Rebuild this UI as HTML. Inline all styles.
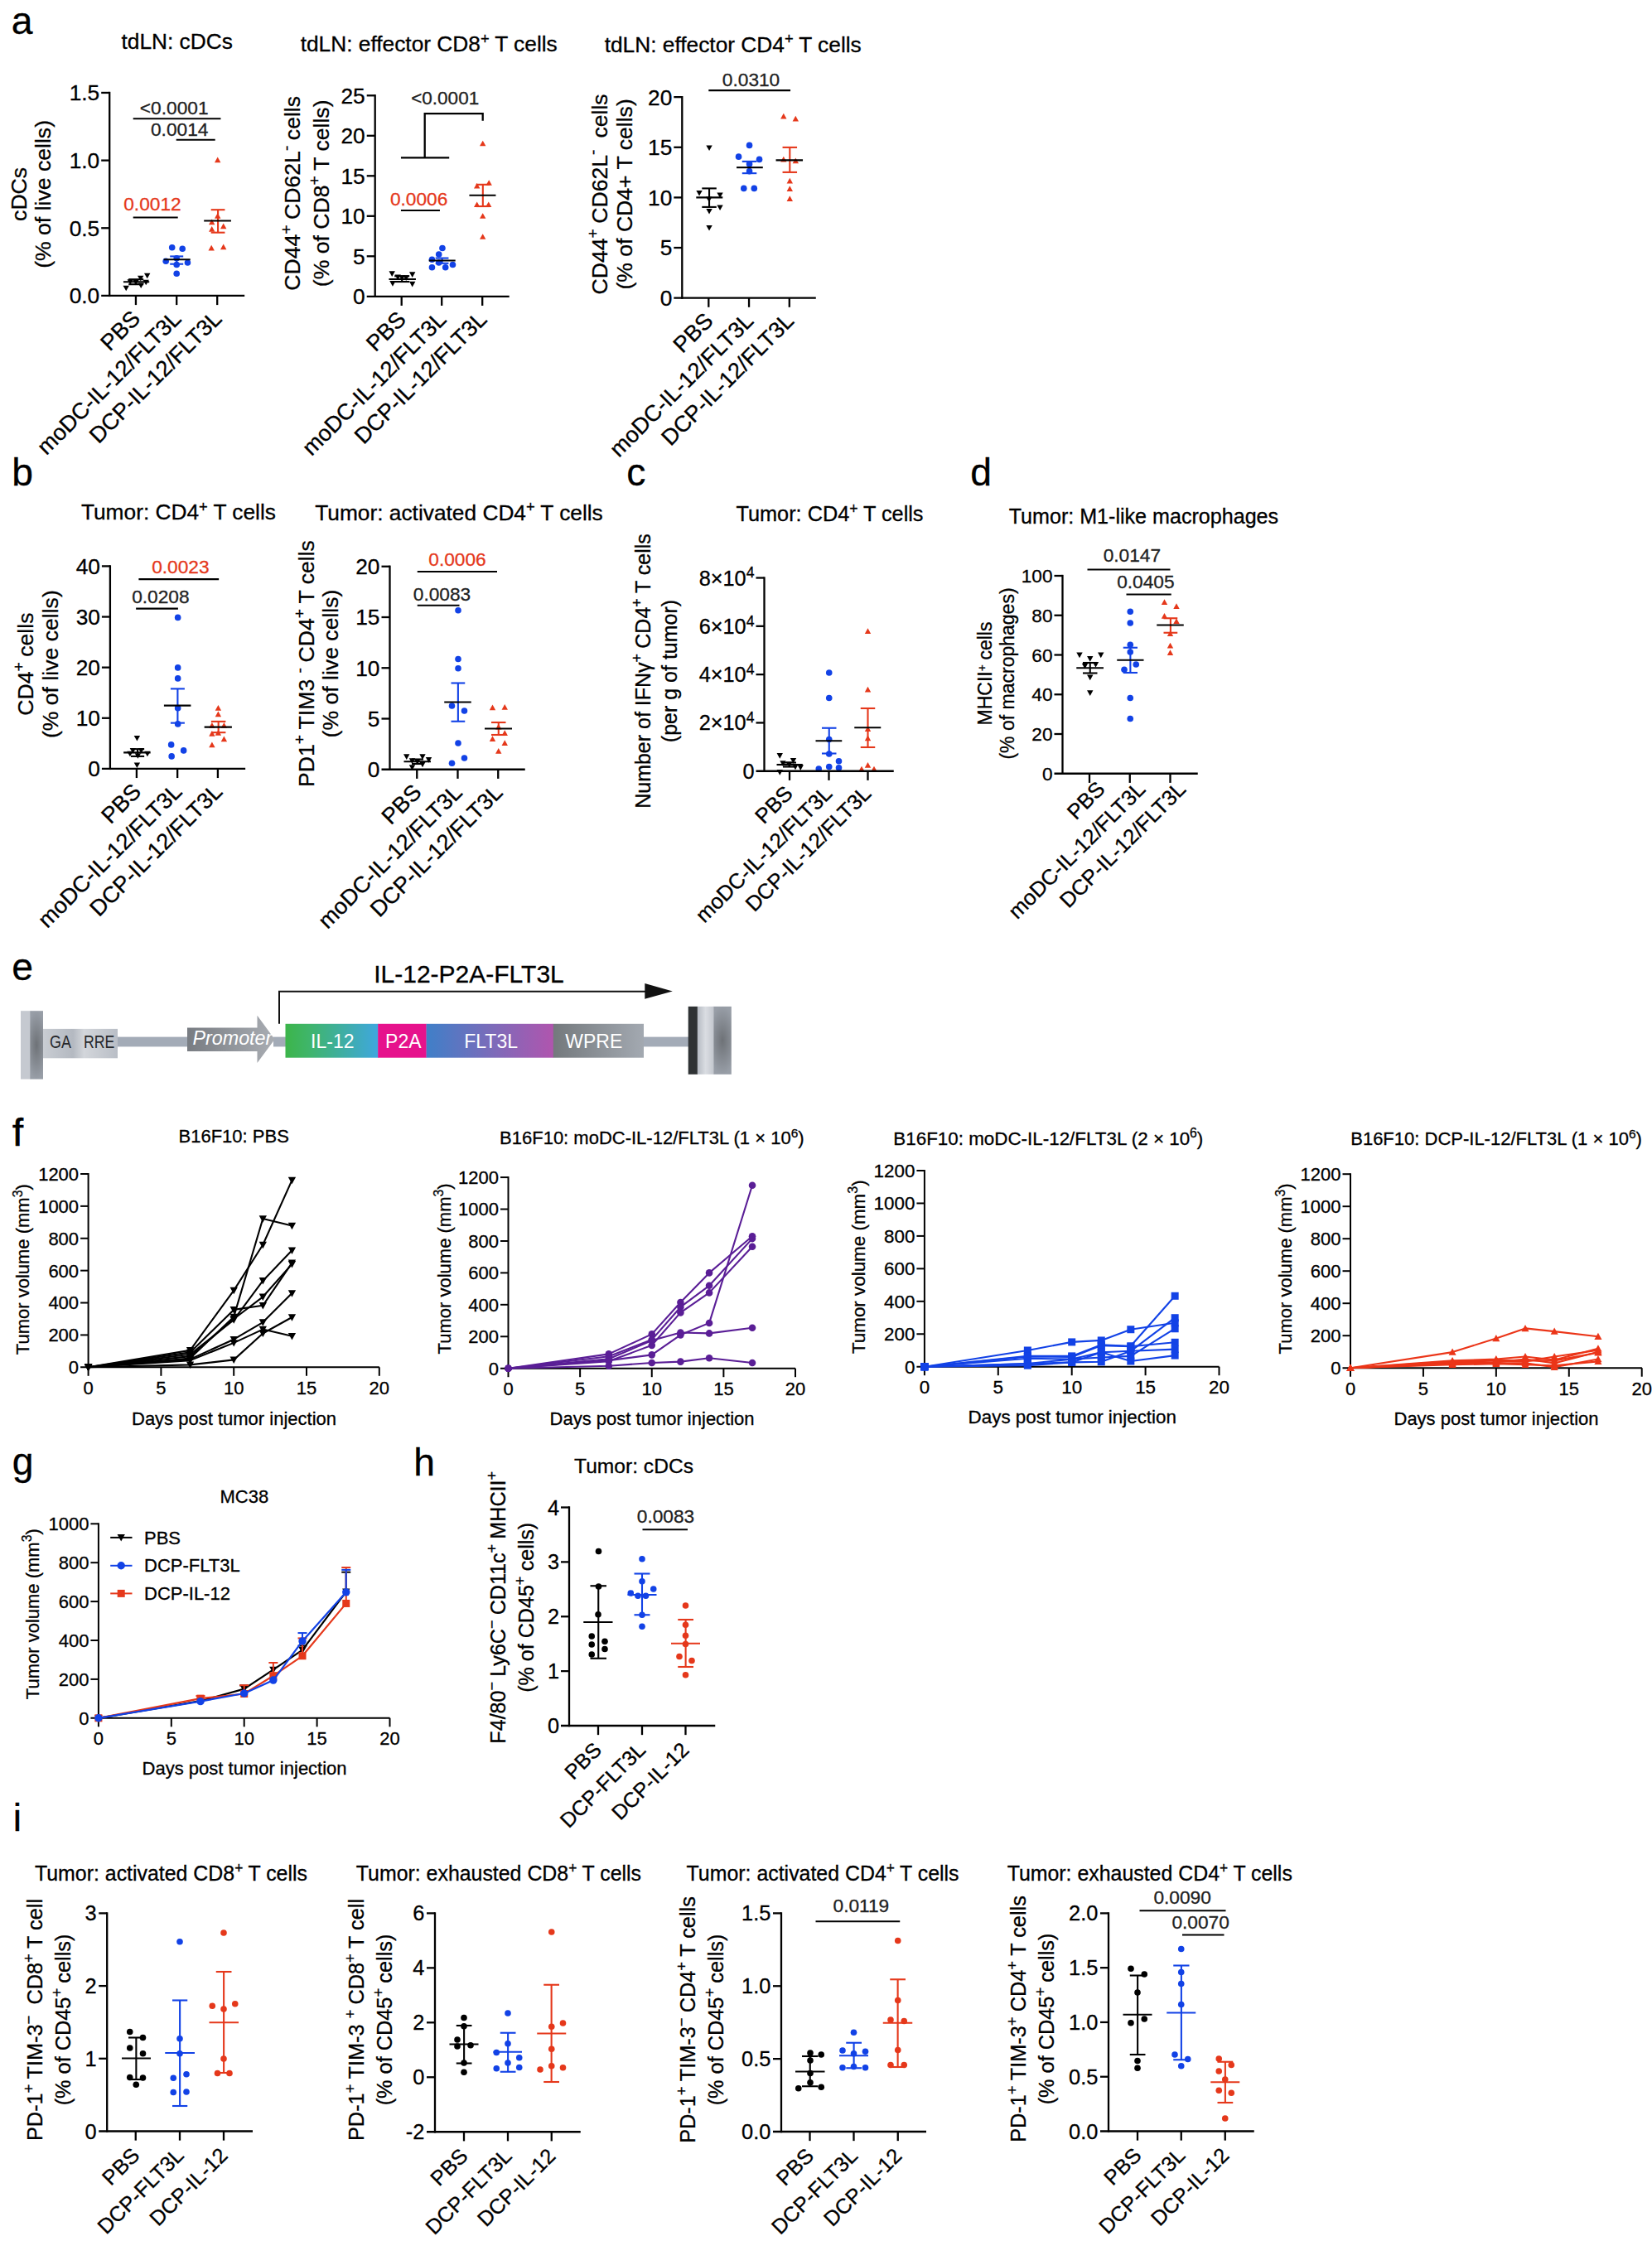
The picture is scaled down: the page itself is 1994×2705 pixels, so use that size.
<!DOCTYPE html>
<html lang="en"><head><meta charset="utf-8"><title>Figure</title>
<style>html,body{margin:0;padding:0;background:#fff}svg{display:block}text{font-family:'Liberation Sans', Arial, Helvetica, sans-serif;stroke-width:.3px}</style></head>
<body><svg width="1994" height="2705" viewBox="0 0 1994 2705">
<rect width="1994" height="2705" fill="#fff"/>
<g>
<text x="13.80" y="41.00" font-size="46.3" stroke="#000">a</text>
<g transform="translate(0.2 0.7)">
<text x="213.50" y="58.50" font-size="26.3" text-anchor="middle" stroke="#000">tdLN: cDCs</text>
<text transform="translate(32.00 233.70) rotate(-90)" font-size="26.6" text-anchor="middle" stroke="#000">cDCs</text>
<text transform="translate(61.00 233.70) rotate(-90)" font-size="26.6" text-anchor="middle" stroke="#000">(% of live cells)</text>
<text transform="translate(170.75 385.50) rotate(-45)" font-size="27.2" text-anchor="end" stroke="#000">PBS</text>
<text transform="translate(220.00 385.50) rotate(-45)" font-size="27.2" text-anchor="end" stroke="#000">moDC-IL-12/FLT3L</text>
<text transform="translate(269.00 385.50) rotate(-45)" font-size="27.2" text-anchor="end" stroke="#000">DCP-IL-12/FLT3L</text>
<path d="M148.31 344.01 L155.69 344.01 L152.00 350.66 Z" fill="#000"/>
<path d="M153.31 336.51 L160.69 336.51 L157.00 343.16 Z" fill="#000"/>
<path d="M160.06 337.01 L167.44 337.01 L163.75 343.66 Z" fill="#000"/>
<path d="M165.81 332.01 L173.19 332.01 L169.50 338.66 Z" fill="#000"/>
<path d="M166.31 340.76 L173.69 340.76 L170.00 347.41 Z" fill="#000"/>
<path d="M173.81 329.01 L181.19 329.01 L177.50 335.66 Z" fill="#000"/>
<path d="M172.31 337.01 L179.69 337.01 L176.00 343.66 Z" fill="#000"/>
<line x1="164.00" y1="336.50" x2="164.00" y2="342.50" stroke="#000" stroke-width="2.1"/>
<line x1="155.00" y1="336.50" x2="173.00" y2="336.50" stroke="#000" stroke-width="2.1"/>
<line x1="155.00" y1="342.50" x2="173.00" y2="342.50" stroke="#000" stroke-width="2.1"/>
<line x1="148.75" y1="339.50" x2="180.00" y2="339.50" stroke="#000" stroke-width="2.1"/>
<circle cx="207.50" cy="298.00" r="3.80" fill="#1242e6"/>
<circle cx="220.00" cy="299.50" r="3.80" fill="#1242e6"/>
<circle cx="200.00" cy="314.50" r="3.80" fill="#1242e6"/>
<circle cx="226.25" cy="316.25" r="3.80" fill="#1242e6"/>
<circle cx="213.00" cy="318.75" r="3.80" fill="#1242e6"/>
<circle cx="213.00" cy="329.50" r="3.80" fill="#1242e6"/>
<circle cx="213.00" cy="311.00" r="3.80" fill="#1242e6"/>
<line x1="213.00" y1="308.75" x2="213.00" y2="318.00" stroke="#1242e6" stroke-width="2.1"/>
<line x1="205.00" y1="308.75" x2="221.00" y2="308.75" stroke="#1242e6" stroke-width="2.1"/>
<line x1="205.00" y1="318.00" x2="221.00" y2="318.00" stroke="#1242e6" stroke-width="2.1"/>
<line x1="197.50" y1="312.50" x2="229.50" y2="312.50" stroke="#000" stroke-width="2.1"/>
<path d="M258.81 195.49 L266.19 195.49 L262.50 188.84 Z" fill="#e5381b"/>
<path d="M258.81 262.99 L266.19 262.99 L262.50 256.34 Z" fill="#e5381b"/>
<path d="M251.81 270.49 L259.19 270.49 L255.50 263.84 Z" fill="#e5381b"/>
<path d="M265.81 275.49 L273.19 275.49 L269.50 268.84 Z" fill="#e5381b"/>
<path d="M251.81 278.99 L259.19 278.99 L255.50 272.34 Z" fill="#e5381b"/>
<path d="M251.31 301.74 L258.69 301.74 L255.00 295.09 Z" fill="#e5381b"/>
<path d="M265.81 300.49 L273.19 300.49 L269.50 293.84 Z" fill="#e5381b"/>
<line x1="262.88" y1="252.50" x2="262.88" y2="280.00" stroke="#e5381b" stroke-width="2.1"/>
<line x1="254.50" y1="252.50" x2="271.25" y2="252.50" stroke="#e5381b" stroke-width="2.1"/>
<line x1="254.50" y1="280.00" x2="271.25" y2="280.00" stroke="#e5381b" stroke-width="2.1"/>
<line x1="246.00" y1="265.75" x2="278.75" y2="265.75" stroke="#000" stroke-width="2.1"/>
<line x1="132.00" y1="110.10" x2="132.00" y2="357.40" stroke="#000" stroke-width="2.3"/>
<line x1="122.00" y1="356.25" x2="295.00" y2="356.25" stroke="#000" stroke-width="2.3"/>
<line x1="122.00" y1="111.25" x2="132.00" y2="111.25" stroke="#000" stroke-width="2.3"/>
<text x="120.00" y="120.67" font-size="26.3" text-anchor="end" stroke="#000">1.5</text>
<line x1="122.00" y1="192.92" x2="132.00" y2="192.92" stroke="#000" stroke-width="2.3"/>
<text x="120.00" y="202.33" font-size="26.3" text-anchor="end" stroke="#000">1.0</text>
<line x1="122.00" y1="274.58" x2="132.00" y2="274.58" stroke="#000" stroke-width="2.3"/>
<text x="120.00" y="284.00" font-size="26.3" text-anchor="end" stroke="#000">0.5</text>
<text x="120.00" y="365.67" font-size="26.3" text-anchor="end" stroke="#000">0.0</text>
<line x1="163.75" y1="356.25" x2="163.75" y2="367.40" stroke="#000" stroke-width="2.3"/>
<line x1="213.00" y1="356.25" x2="213.00" y2="367.40" stroke="#000" stroke-width="2.3"/>
<line x1="262.00" y1="356.25" x2="262.00" y2="367.40" stroke="#000" stroke-width="2.3"/>
<text x="210.00" y="137.00" font-size="22.7" text-anchor="middle" fill="#222" stroke="#222">&lt;0.0001</text>
<line x1="160.50" y1="142.50" x2="266.25" y2="142.50" stroke="#000" stroke-width="2.1"/>
<text x="216.50" y="163.75" font-size="22.7" text-anchor="middle" fill="#222" stroke="#222">0.0014</text>
<line x1="212.50" y1="168.00" x2="259.50" y2="168.00" stroke="#000" stroke-width="2.1"/>
<text x="183.75" y="253.75" font-size="22.7" text-anchor="middle" fill="#e5381b" stroke="#e5381b">0.0012</text>
<line x1="160.50" y1="261.75" x2="214.50" y2="261.75" stroke="#000" stroke-width="2.1"/>
</g>
<g transform="translate(0.2 0.8)">
<text x="517.50" y="61.25" font-size="26.3" text-anchor="middle" stroke="#000">tdLN: effector CD8<tspan dy="-9.47" font-size="18.41">+</tspan><tspan dy="9.47" dx="-0.79"> T cells</tspan></text>
<text transform="translate(361.95 232.50) rotate(-90)" font-size="26.6" text-anchor="middle" stroke="#000">CD44<tspan dy="-10.37" font-size="19.15">+</tspan><tspan dy="10.37" dx="-0.80"> CD62L</tspan><tspan dy="-10.37" font-size="19.15">-</tspan><tspan dy="10.37" dx="-0.80"> cells</tspan></text>
<text transform="translate(396.45 232.50) rotate(-90)" font-size="26.6" text-anchor="middle" stroke="#000">(% of CD8<tspan dy="-10.37" font-size="19.15">+</tspan><tspan dy="10.37" dx="-0.80"> T cells)</tspan></text>
<text transform="translate(491.50 386.25) rotate(-45)" font-size="27.2" text-anchor="end" stroke="#000">PBS</text>
<text transform="translate(540.00 386.25) rotate(-45)" font-size="27.2" text-anchor="end" stroke="#000">moDC-IL-12/FLT3L</text>
<text transform="translate(589.00 386.25) rotate(-45)" font-size="27.2" text-anchor="end" stroke="#000">DCP-IL-12/FLT3L</text>
<path d="M469.31 326.51 L476.69 326.51 L473.00 333.16 Z" fill="#000"/>
<path d="M476.31 330.76 L483.69 330.76 L480.00 337.41 Z" fill="#000"/>
<path d="M481.31 331.51 L488.69 331.51 L485.00 338.16 Z" fill="#000"/>
<path d="M486.31 331.51 L493.69 331.51 L490.00 338.16 Z" fill="#000"/>
<path d="M493.81 327.51 L501.19 327.51 L497.50 334.16 Z" fill="#000"/>
<path d="M470.06 338.26 L477.44 338.26 L473.75 344.91 Z" fill="#000"/>
<path d="M493.81 339.01 L501.19 339.01 L497.50 345.66 Z" fill="#000"/>
<line x1="485.00" y1="332.50" x2="485.00" y2="339.25" stroke="#000" stroke-width="2.1"/>
<line x1="476.00" y1="332.50" x2="494.00" y2="332.50" stroke="#000" stroke-width="2.1"/>
<line x1="476.00" y1="339.25" x2="494.00" y2="339.25" stroke="#000" stroke-width="2.1"/>
<line x1="469.25" y1="336.25" x2="501.75" y2="336.25" stroke="#000" stroke-width="2.1"/>
<circle cx="533.75" cy="298.75" r="3.80" fill="#1242e6"/>
<circle cx="529.50" cy="306.25" r="3.80" fill="#1242e6"/>
<circle cx="521.25" cy="312.50" r="3.80" fill="#1242e6"/>
<circle cx="529.50" cy="316.25" r="3.80" fill="#1242e6"/>
<circle cx="546.25" cy="318.75" r="3.80" fill="#1242e6"/>
<circle cx="521.25" cy="322.00" r="3.80" fill="#1242e6"/>
<circle cx="537.50" cy="322.00" r="3.80" fill="#1242e6"/>
<line x1="533.38" y1="310.75" x2="533.38" y2="317.00" stroke="#1242e6" stroke-width="2.1"/>
<line x1="525.50" y1="310.75" x2="541.25" y2="310.75" stroke="#1242e6" stroke-width="2.1"/>
<line x1="525.50" y1="317.00" x2="541.25" y2="317.00" stroke="#1242e6" stroke-width="2.1"/>
<line x1="517.50" y1="313.75" x2="549.50" y2="313.75" stroke="#000" stroke-width="2.1"/>
<path d="M578.81 175.49 L586.19 175.49 L582.50 168.84 Z" fill="#e5381b"/>
<path d="M586.31 222.99 L593.69 222.99 L590.00 216.34 Z" fill="#e5381b"/>
<path d="M571.81 226.74 L579.19 226.74 L575.50 220.09 Z" fill="#e5381b"/>
<path d="M571.81 249.24 L579.19 249.24 L575.50 242.59 Z" fill="#e5381b"/>
<path d="M585.81 249.24 L593.19 249.24 L589.50 242.59 Z" fill="#e5381b"/>
<path d="M578.81 262.99 L586.19 262.99 L582.50 256.34 Z" fill="#e5381b"/>
<path d="M578.81 287.99 L586.19 287.99 L582.50 281.34 Z" fill="#e5381b"/>
<line x1="582.62" y1="222.00" x2="582.62" y2="248.25" stroke="#e5381b" stroke-width="2.1"/>
<line x1="574.50" y1="222.00" x2="590.75" y2="222.00" stroke="#e5381b" stroke-width="2.1"/>
<line x1="574.50" y1="248.25" x2="590.75" y2="248.25" stroke="#e5381b" stroke-width="2.1"/>
<line x1="566.25" y1="235.00" x2="598.25" y2="235.00" stroke="#000" stroke-width="2.1"/>
<line x1="452.50" y1="113.35" x2="452.50" y2="358.15" stroke="#000" stroke-width="2.3"/>
<line x1="442.50" y1="357.00" x2="614.50" y2="357.00" stroke="#000" stroke-width="2.3"/>
<line x1="442.50" y1="114.50" x2="452.50" y2="114.50" stroke="#000" stroke-width="2.3"/>
<text x="440.50" y="123.92" font-size="26.3" text-anchor="end" stroke="#000">25</text>
<line x1="442.50" y1="163.00" x2="452.50" y2="163.00" stroke="#000" stroke-width="2.3"/>
<text x="440.50" y="172.42" font-size="26.3" text-anchor="end" stroke="#000">20</text>
<line x1="442.50" y1="211.50" x2="452.50" y2="211.50" stroke="#000" stroke-width="2.3"/>
<text x="440.50" y="220.92" font-size="26.3" text-anchor="end" stroke="#000">15</text>
<line x1="442.50" y1="260.00" x2="452.50" y2="260.00" stroke="#000" stroke-width="2.3"/>
<text x="440.50" y="269.42" font-size="26.3" text-anchor="end" stroke="#000">10</text>
<line x1="442.50" y1="308.50" x2="452.50" y2="308.50" stroke="#000" stroke-width="2.3"/>
<text x="440.50" y="317.92" font-size="26.3" text-anchor="end" stroke="#000">5</text>
<text x="440.50" y="366.42" font-size="26.3" text-anchor="end" stroke="#000">0</text>
<line x1="484.50" y1="357.00" x2="484.50" y2="368.15" stroke="#000" stroke-width="2.3"/>
<line x1="533.00" y1="357.00" x2="533.00" y2="368.15" stroke="#000" stroke-width="2.3"/>
<line x1="582.00" y1="357.00" x2="582.00" y2="368.15" stroke="#000" stroke-width="2.3"/>
<text x="505.40" y="247.50" font-size="22.7" text-anchor="middle" fill="#e5381b" stroke="#e5381b">0.0006</text>
<line x1="483.75" y1="253.25" x2="530.75" y2="253.25" stroke="#000" stroke-width="2.1"/>
</g>
<text x="537.20" y="125.80" font-size="22.5" text-anchor="middle" fill="#222" stroke="#222">&lt;0.0001</text>
<path d="M582.7 145.8 L582.7 137.05 L512.7 137.05 L512.7 190.3 M483.95 190.3 L542.2 190.3" fill="none" stroke="#000" stroke-width="2.3"/>
<g transform="translate(0.3 0.4)">
<text x="884.40" y="62.50" font-size="26.3" text-anchor="middle" stroke="#000">tdLN: effector CD4<tspan dy="-9.47" font-size="18.41">+</tspan><tspan dy="9.47" dx="-0.79"> T cells</tspan></text>
<text transform="translate(732.30 234.00) rotate(-90)" font-size="26.6" text-anchor="middle" stroke="#000">CD44<tspan dy="-10.37" font-size="19.15">+</tspan><tspan dy="10.37" dx="-0.80"> CD62L</tspan><tspan dy="-10.37" font-size="19.15">-</tspan><tspan dy="10.37" dx="-0.80">  cells</tspan></text>
<text transform="translate(762.20 234.00) rotate(-90)" font-size="26.6" text-anchor="middle" stroke="#000">(% of CD4+ T cells)</text>
<text transform="translate(862.00 388.50) rotate(-45)" font-size="27.2" text-anchor="end" stroke="#000">PBS</text>
<text transform="translate(910.75 388.50) rotate(-45)" font-size="27.2" text-anchor="end" stroke="#000">moDC-IL-12/FLT3L</text>
<text transform="translate(959.50 388.50) rotate(-45)" font-size="27.2" text-anchor="end" stroke="#000">DCP-IL-12/FLT3L</text>
<path d="M852.06 175.01 L859.44 175.01 L855.75 181.66 Z" fill="#000"/>
<path d="M840.06 229.51 L847.44 229.51 L843.75 236.16 Z" fill="#000"/>
<path d="M865.06 232.01 L872.44 232.01 L868.75 238.66 Z" fill="#000"/>
<path d="M865.06 247.01 L872.44 247.01 L868.75 253.66 Z" fill="#000"/>
<path d="M852.06 251.51 L859.44 251.51 L855.75 258.16 Z" fill="#000"/>
<path d="M852.06 271.51 L859.44 271.51 L855.75 278.16 Z" fill="#000"/>
<path d="M851.81 237.01 L859.19 237.01 L855.50 243.66 Z" fill="#000"/>
<line x1="855.75" y1="227.00" x2="855.75" y2="249.50" stroke="#000" stroke-width="2.1"/>
<line x1="847.00" y1="227.00" x2="864.50" y2="227.00" stroke="#000" stroke-width="2.1"/>
<line x1="847.00" y1="249.50" x2="864.50" y2="249.50" stroke="#000" stroke-width="2.1"/>
<line x1="840.00" y1="238.00" x2="872.00" y2="238.00" stroke="#000" stroke-width="2.1"/>
<circle cx="904.25" cy="175.00" r="3.80" fill="#1242e6"/>
<circle cx="891.25" cy="188.75" r="3.80" fill="#1242e6"/>
<circle cx="916.25" cy="192.00" r="3.80" fill="#1242e6"/>
<circle cx="904.25" cy="197.50" r="3.80" fill="#1242e6"/>
<circle cx="904.25" cy="206.25" r="3.80" fill="#1242e6"/>
<circle cx="897.50" cy="227.00" r="3.80" fill="#1242e6"/>
<circle cx="910.00" cy="227.00" r="3.80" fill="#1242e6"/>
<line x1="904.25" y1="194.50" x2="904.25" y2="208.75" stroke="#1242e6" stroke-width="2.1"/>
<line x1="895.50" y1="194.50" x2="913.00" y2="194.50" stroke="#1242e6" stroke-width="2.1"/>
<line x1="895.50" y1="208.75" x2="913.00" y2="208.75" stroke="#1242e6" stroke-width="2.1"/>
<line x1="888.75" y1="201.75" x2="920.50" y2="201.75" stroke="#000" stroke-width="2.1"/>
<path d="M941.81 142.99 L949.19 142.99 L945.50 136.34 Z" fill="#e5381b"/>
<path d="M956.31 145.99 L963.69 145.99 L960.00 139.34 Z" fill="#e5381b"/>
<path d="M941.81 194.99 L949.19 194.99 L945.50 188.34 Z" fill="#e5381b"/>
<path d="M956.31 196.74 L963.69 196.74 L960.00 190.09 Z" fill="#e5381b"/>
<path d="M949.31 220.99 L956.69 220.99 L953.00 214.34 Z" fill="#e5381b"/>
<path d="M949.31 230.49 L956.69 230.49 L953.00 223.84 Z" fill="#e5381b"/>
<path d="M949.31 242.49 L956.69 242.49 L953.00 235.84 Z" fill="#e5381b"/>
<line x1="953.00" y1="177.50" x2="953.00" y2="207.50" stroke="#e5381b" stroke-width="2.1"/>
<line x1="944.25" y1="177.50" x2="961.75" y2="177.50" stroke="#e5381b" stroke-width="2.1"/>
<line x1="944.25" y1="207.50" x2="961.75" y2="207.50" stroke="#e5381b" stroke-width="2.1"/>
<line x1="936.25" y1="193.00" x2="968.75" y2="193.00" stroke="#000" stroke-width="2.1"/>
<line x1="823.00" y1="115.60" x2="823.00" y2="360.40" stroke="#000" stroke-width="2.3"/>
<line x1="813.00" y1="359.25" x2="984.50" y2="359.25" stroke="#000" stroke-width="2.3"/>
<line x1="813.00" y1="116.75" x2="823.00" y2="116.75" stroke="#000" stroke-width="2.3"/>
<text x="811.00" y="126.17" font-size="26.3" text-anchor="end" stroke="#000">20</text>
<line x1="813.00" y1="177.38" x2="823.00" y2="177.38" stroke="#000" stroke-width="2.3"/>
<text x="811.00" y="186.79" font-size="26.3" text-anchor="end" stroke="#000">15</text>
<line x1="813.00" y1="238.00" x2="823.00" y2="238.00" stroke="#000" stroke-width="2.3"/>
<text x="811.00" y="247.42" font-size="26.3" text-anchor="end" stroke="#000">10</text>
<line x1="813.00" y1="298.62" x2="823.00" y2="298.62" stroke="#000" stroke-width="2.3"/>
<text x="811.00" y="308.04" font-size="26.3" text-anchor="end" stroke="#000">5</text>
<text x="811.00" y="368.67" font-size="26.3" text-anchor="end" stroke="#000">0</text>
<line x1="855.00" y1="359.25" x2="855.00" y2="370.40" stroke="#000" stroke-width="2.3"/>
<line x1="903.75" y1="359.25" x2="903.75" y2="370.40" stroke="#000" stroke-width="2.3"/>
<line x1="952.50" y1="359.25" x2="952.50" y2="370.40" stroke="#000" stroke-width="2.3"/>
<text x="906.25" y="103.25" font-size="22.7" text-anchor="middle" fill="#222" stroke="#222">0.0310</text>
<line x1="855.00" y1="108.75" x2="953.75" y2="108.75" stroke="#000" stroke-width="2.1"/>
</g>
<text x="14.30" y="586.00" font-size="46.3" stroke="#000">b</text>
<g transform="translate(0.4 -0.35)">
<text x="215.00" y="627.50" font-size="26.3" text-anchor="middle" stroke="#000">Tumor: CD4<tspan dy="-9.47" font-size="18.41">+</tspan><tspan dy="9.47" dx="-0.79"> T cells</tspan></text>
<text transform="translate(39.30 802.00) rotate(-90)" font-size="26.6" text-anchor="middle" stroke="#000">CD4<tspan dy="-10.37" font-size="19.15">+</tspan><tspan dy="10.37" dx="-0.80"> cells</tspan></text>
<text transform="translate(69.40 802.00) rotate(-90)" font-size="26.6" text-anchor="middle" stroke="#000">(% of live cells)</text>
<text transform="translate(171.50 957.50) rotate(-45)" font-size="27.2" text-anchor="end" stroke="#000">PBS</text>
<text transform="translate(220.75 957.50) rotate(-45)" font-size="27.2" text-anchor="end" stroke="#000">moDC-IL-12/FLT3L</text>
<text transform="translate(269.50 957.50) rotate(-45)" font-size="27.2" text-anchor="end" stroke="#000">DCP-IL-12/FLT3L</text>
<path d="M161.31 888.26 L168.69 888.26 L165.00 894.91 Z" fill="#000"/>
<path d="M156.31 903.26 L163.69 903.26 L160.00 909.91 Z" fill="#000"/>
<path d="M166.31 903.26 L173.69 903.26 L170.00 909.91 Z" fill="#000"/>
<path d="M152.81 907.01 L160.19 907.01 L156.50 913.66 Z" fill="#000"/>
<path d="M173.81 907.01 L181.19 907.01 L177.50 913.66 Z" fill="#000"/>
<path d="M162.31 909.51 L169.69 909.51 L166.00 916.16 Z" fill="#000"/>
<path d="M161.31 920.76 L168.69 920.76 L165.00 927.41 Z" fill="#000"/>
<line x1="165.62" y1="904.50" x2="165.62" y2="913.25" stroke="#000" stroke-width="2.1"/>
<line x1="157.50" y1="904.50" x2="173.75" y2="904.50" stroke="#000" stroke-width="2.1"/>
<line x1="157.50" y1="913.25" x2="173.75" y2="913.25" stroke="#000" stroke-width="2.1"/>
<line x1="148.75" y1="908.75" x2="181.25" y2="908.75" stroke="#000" stroke-width="2.1"/>
<circle cx="214.25" cy="745.75" r="3.80" fill="#1242e6"/>
<circle cx="214.25" cy="806.25" r="3.80" fill="#1242e6"/>
<circle cx="214.25" cy="819.25" r="3.80" fill="#1242e6"/>
<circle cx="214.25" cy="855.00" r="3.80" fill="#1242e6"/>
<circle cx="214.25" cy="874.25" r="3.80" fill="#1242e6"/>
<circle cx="206.25" cy="899.25" r="3.80" fill="#1242e6"/>
<circle cx="221.25" cy="906.25" r="3.80" fill="#1242e6"/>
<circle cx="206.75" cy="913.25" r="3.80" fill="#1242e6"/>
<line x1="214.00" y1="831.75" x2="214.00" y2="873.00" stroke="#1242e6" stroke-width="2.1"/>
<line x1="205.50" y1="831.75" x2="222.50" y2="831.75" stroke="#1242e6" stroke-width="2.1"/>
<line x1="205.50" y1="873.00" x2="222.50" y2="873.00" stroke="#1242e6" stroke-width="2.1"/>
<line x1="197.50" y1="852.00" x2="230.00" y2="852.00" stroke="#000" stroke-width="2.1"/>
<path d="M259.31 857.99 L266.69 857.99 L263.00 851.34 Z" fill="#e5381b"/>
<path d="M259.31 865.49 L266.69 865.49 L263.00 858.84 Z" fill="#e5381b"/>
<path d="M251.81 878.99 L259.19 878.99 L255.50 872.34 Z" fill="#e5381b"/>
<path d="M266.31 878.99 L273.69 878.99 L270.00 872.34 Z" fill="#e5381b"/>
<path d="M259.31 887.99 L266.69 887.99 L263.00 881.34 Z" fill="#e5381b"/>
<path d="M251.81 888.99 L259.19 888.99 L255.50 882.34 Z" fill="#e5381b"/>
<path d="M266.31 895.49 L273.69 895.49 L270.00 888.84 Z" fill="#e5381b"/>
<path d="M251.81 902.49 L259.19 902.49 L255.50 895.84 Z" fill="#e5381b"/>
<line x1="263.25" y1="871.25" x2="263.25" y2="884.50" stroke="#e5381b" stroke-width="2.1"/>
<line x1="254.50" y1="871.25" x2="272.00" y2="871.25" stroke="#e5381b" stroke-width="2.1"/>
<line x1="254.50" y1="884.50" x2="272.00" y2="884.50" stroke="#e5381b" stroke-width="2.1"/>
<line x1="246.25" y1="878.00" x2="279.50" y2="878.00" stroke="#000" stroke-width="2.1"/>
<line x1="132.50" y1="682.60" x2="132.50" y2="929.40" stroke="#000" stroke-width="2.3"/>
<line x1="122.50" y1="928.25" x2="295.75" y2="928.25" stroke="#000" stroke-width="2.3"/>
<line x1="122.50" y1="683.75" x2="132.50" y2="683.75" stroke="#000" stroke-width="2.3"/>
<text x="120.50" y="693.17" font-size="26.3" text-anchor="end" stroke="#000">40</text>
<line x1="122.50" y1="744.88" x2="132.50" y2="744.88" stroke="#000" stroke-width="2.3"/>
<text x="120.50" y="754.29" font-size="26.3" text-anchor="end" stroke="#000">30</text>
<line x1="122.50" y1="806.00" x2="132.50" y2="806.00" stroke="#000" stroke-width="2.3"/>
<text x="120.50" y="815.42" font-size="26.3" text-anchor="end" stroke="#000">20</text>
<line x1="122.50" y1="867.12" x2="132.50" y2="867.12" stroke="#000" stroke-width="2.3"/>
<text x="120.50" y="876.54" font-size="26.3" text-anchor="end" stroke="#000">10</text>
<text x="120.50" y="937.67" font-size="26.3" text-anchor="end" stroke="#000">0</text>
<line x1="164.50" y1="928.25" x2="164.50" y2="939.40" stroke="#000" stroke-width="2.3"/>
<line x1="213.75" y1="928.25" x2="213.75" y2="939.40" stroke="#000" stroke-width="2.3"/>
<line x1="262.50" y1="928.25" x2="262.50" y2="939.40" stroke="#000" stroke-width="2.3"/>
<text x="217.50" y="692.50" font-size="22.7" text-anchor="middle" fill="#e5381b" stroke="#e5381b">0.0023</text>
<line x1="167.00" y1="699.50" x2="263.75" y2="699.50" stroke="#000" stroke-width="2.1"/>
<text x="193.50" y="728.75" font-size="22.7" text-anchor="middle" fill="#222" stroke="#222">0.0208</text>
<line x1="163.75" y1="735.00" x2="214.50" y2="735.00" stroke="#000" stroke-width="2.1"/>
</g>
<g transform="translate(0 0)">
<text x="554.00" y="627.50" font-size="26.3" text-anchor="middle" stroke="#000">Tumor: activated CD4<tspan dy="-9.47" font-size="18.41">+</tspan><tspan dy="9.47" dx="-0.79"> T cells</tspan></text>
<text transform="translate(378.50 801.00) rotate(-90)" font-size="26.6" text-anchor="middle" stroke="#000">PD1<tspan dy="-10.37" font-size="19.15">+</tspan><tspan dy="10.37" dx="-0.80"> TIM3 </tspan><tspan dy="-10.37" font-size="19.15">-</tspan><tspan dy="10.37" dx="-0.80"> CD4</tspan><tspan dy="-10.37" font-size="19.15">+</tspan><tspan dy="10.37" dx="-0.80"> T cells</tspan></text>
<text transform="translate(408.10 801.00) rotate(-90)" font-size="26.6" text-anchor="middle" stroke="#000">(% of live cells)</text>
<text transform="translate(510.25 958.00) rotate(-45)" font-size="27.2" text-anchor="end" stroke="#000">PBS</text>
<text transform="translate(559.50 958.00) rotate(-45)" font-size="27.2" text-anchor="end" stroke="#000">moDC-IL-12/FLT3L</text>
<text transform="translate(608.25 958.00) rotate(-45)" font-size="27.2" text-anchor="end" stroke="#000">DCP-IL-12/FLT3L</text>
<path d="M487.06 910.26 L494.44 910.26 L490.75 916.91 Z" fill="#000"/>
<path d="M506.31 910.26 L513.69 910.26 L510.00 916.91 Z" fill="#000"/>
<path d="M513.81 914.01 L521.19 914.01 L517.50 920.66 Z" fill="#000"/>
<path d="M493.81 915.26 L501.19 915.26 L497.50 921.91 Z" fill="#000"/>
<path d="M500.06 916.26 L507.44 916.26 L503.75 922.91 Z" fill="#000"/>
<path d="M506.31 919.51 L513.69 919.51 L510.00 926.16 Z" fill="#000"/>
<path d="M493.81 923.26 L501.19 923.26 L497.50 929.91 Z" fill="#000"/>
<line x1="504.00" y1="916.50" x2="504.00" y2="922.00" stroke="#000" stroke-width="2.1"/>
<line x1="497.00" y1="916.50" x2="511.00" y2="916.50" stroke="#000" stroke-width="2.1"/>
<line x1="497.00" y1="922.00" x2="511.00" y2="922.00" stroke="#000" stroke-width="2.1"/>
<line x1="487.50" y1="919.25" x2="520.00" y2="919.25" stroke="#000" stroke-width="2.1"/>
<circle cx="553.00" cy="736.75" r="3.80" fill="#1242e6"/>
<circle cx="553.00" cy="795.50" r="3.80" fill="#1242e6"/>
<circle cx="553.00" cy="806.75" r="3.80" fill="#1242e6"/>
<circle cx="545.50" cy="852.00" r="3.80" fill="#1242e6"/>
<circle cx="560.50" cy="858.00" r="3.80" fill="#1242e6"/>
<circle cx="553.00" cy="897.00" r="3.80" fill="#1242e6"/>
<circle cx="560.50" cy="915.00" r="3.80" fill="#1242e6"/>
<circle cx="545.50" cy="921.25" r="3.80" fill="#1242e6"/>
<line x1="552.88" y1="824.50" x2="552.88" y2="870.75" stroke="#1242e6" stroke-width="2.1"/>
<line x1="544.50" y1="824.50" x2="561.25" y2="824.50" stroke="#1242e6" stroke-width="2.1"/>
<line x1="544.50" y1="870.75" x2="561.25" y2="870.75" stroke="#1242e6" stroke-width="2.1"/>
<line x1="536.25" y1="847.50" x2="568.75" y2="847.50" stroke="#000" stroke-width="2.1"/>
<path d="M590.81 857.24 L598.19 857.24 L594.50 850.59 Z" fill="#e5381b"/>
<path d="M605.56 856.74 L612.94 856.74 L609.25 850.09 Z" fill="#e5381b"/>
<path d="M598.06 880.49 L605.44 880.49 L601.75 873.84 Z" fill="#e5381b"/>
<path d="M605.56 887.99 L612.94 887.99 L609.25 881.34 Z" fill="#e5381b"/>
<path d="M590.81 894.99 L598.19 894.99 L594.50 888.34 Z" fill="#e5381b"/>
<path d="M605.56 899.99 L612.94 899.99 L609.25 893.34 Z" fill="#e5381b"/>
<path d="M598.06 909.74 L605.44 909.74 L601.75 903.09 Z" fill="#e5381b"/>
<line x1="601.75" y1="872.00" x2="601.75" y2="887.00" stroke="#e5381b" stroke-width="2.1"/>
<line x1="593.00" y1="872.00" x2="610.50" y2="872.00" stroke="#e5381b" stroke-width="2.1"/>
<line x1="593.00" y1="887.00" x2="610.50" y2="887.00" stroke="#e5381b" stroke-width="2.1"/>
<line x1="585.00" y1="879.50" x2="618.00" y2="879.50" stroke="#000" stroke-width="2.1"/>
<line x1="470.50" y1="682.60" x2="470.50" y2="929.90" stroke="#000" stroke-width="2.3"/>
<line x1="460.50" y1="928.75" x2="633.75" y2="928.75" stroke="#000" stroke-width="2.3"/>
<line x1="460.50" y1="683.75" x2="470.50" y2="683.75" stroke="#000" stroke-width="2.3"/>
<text x="458.50" y="693.17" font-size="26.3" text-anchor="end" stroke="#000">20</text>
<line x1="460.50" y1="745.00" x2="470.50" y2="745.00" stroke="#000" stroke-width="2.3"/>
<text x="458.50" y="754.42" font-size="26.3" text-anchor="end" stroke="#000">15</text>
<line x1="460.50" y1="806.25" x2="470.50" y2="806.25" stroke="#000" stroke-width="2.3"/>
<text x="458.50" y="815.67" font-size="26.3" text-anchor="end" stroke="#000">10</text>
<line x1="460.50" y1="867.50" x2="470.50" y2="867.50" stroke="#000" stroke-width="2.3"/>
<text x="458.50" y="876.92" font-size="26.3" text-anchor="end" stroke="#000">5</text>
<text x="458.50" y="938.17" font-size="26.3" text-anchor="end" stroke="#000">0</text>
<line x1="503.25" y1="928.75" x2="503.25" y2="939.90" stroke="#000" stroke-width="2.3"/>
<line x1="552.50" y1="928.75" x2="552.50" y2="939.90" stroke="#000" stroke-width="2.3"/>
<line x1="601.25" y1="928.75" x2="601.25" y2="939.90" stroke="#000" stroke-width="2.3"/>
<text x="552.00" y="683.25" font-size="22.7" text-anchor="middle" fill="#e5381b" stroke="#e5381b">0.0006</text>
<line x1="503.75" y1="690.00" x2="600.00" y2="690.00" stroke="#000" stroke-width="2.1"/>
<text x="533.50" y="725.00" font-size="22.7" text-anchor="middle" fill="#222" stroke="#222">0.0083</text>
<line x1="503.75" y1="730.75" x2="554.50" y2="730.75" stroke="#000" stroke-width="2.1"/>
</g>
<text x="756.30" y="586.00" font-size="46.3" stroke="#000">c</text>
<g transform="translate(0 0)">
<text x="1001.50" y="628.75" font-size="25.3" text-anchor="middle" stroke="#000">Tumor: CD4<tspan dy="-9.11" font-size="17.71">+</tspan><tspan dy="9.11" dx="-0.76"> T cells</tspan></text>
<text transform="translate(785.00 810.00) rotate(-90)" font-size="25" text-anchor="middle" stroke="#000">Number of IFNγ<tspan dy="-9.75" font-size="18.00">+</tspan><tspan dy="9.75" dx="-0.75"> CD4</tspan><tspan dy="-9.75" font-size="18.00">+</tspan><tspan dy="9.75" dx="-0.75"> T cells</tspan></text>
<text transform="translate(816.60 810.00) rotate(-90)" font-size="25" text-anchor="middle" stroke="#000">(per g of tumor)</text>
<text transform="translate(958.50 959.25) rotate(-45)" font-size="25.8" text-anchor="end" stroke="#000">PBS</text>
<text transform="translate(1006.00 959.25) rotate(-45)" font-size="25.8" text-anchor="end" stroke="#000">moDC-IL-12/FLT3L</text>
<text transform="translate(1053.00 959.25) rotate(-45)" font-size="25.8" text-anchor="end" stroke="#000">DCP-IL-12/FLT3L</text>
<path d="M937.56 909.01 L944.94 909.01 L941.25 915.66 Z" fill="#000"/>
<path d="M953.81 915.01 L961.19 915.01 L957.50 921.66 Z" fill="#000"/>
<path d="M941.31 918.26 L948.69 918.26 L945.00 924.91 Z" fill="#000"/>
<path d="M948.81 919.51 L956.19 919.51 L952.50 926.16 Z" fill="#000"/>
<path d="M956.31 922.51 L963.69 922.51 L960.00 929.16 Z" fill="#000"/>
<path d="M962.56 923.26 L969.94 923.26 L966.25 929.91 Z" fill="#000"/>
<path d="M937.56 929.01 L944.94 929.01 L941.25 935.66 Z" fill="#000"/>
<line x1="953.00" y1="920.50" x2="953.00" y2="925.50" stroke="#000" stroke-width="2.1"/>
<line x1="945.00" y1="920.50" x2="961.00" y2="920.50" stroke="#000" stroke-width="2.1"/>
<line x1="945.00" y1="925.50" x2="961.00" y2="925.50" stroke="#000" stroke-width="2.1"/>
<line x1="937.50" y1="923.00" x2="968.75" y2="923.00" stroke="#000" stroke-width="2.1"/>
<circle cx="1000.75" cy="812.00" r="3.80" fill="#1242e6"/>
<circle cx="1000.75" cy="842.50" r="3.80" fill="#1242e6"/>
<circle cx="1000.75" cy="892.50" r="3.80" fill="#1242e6"/>
<circle cx="1000.75" cy="910.00" r="3.80" fill="#1242e6"/>
<circle cx="1012.50" cy="918.75" r="3.80" fill="#1242e6"/>
<circle cx="1000.75" cy="925.50" r="3.80" fill="#1242e6"/>
<circle cx="1012.50" cy="926.75" r="3.80" fill="#1242e6"/>
<circle cx="988.25" cy="928.00" r="3.80" fill="#1242e6"/>
<line x1="1000.75" y1="878.75" x2="1000.75" y2="909.50" stroke="#1242e6" stroke-width="2.1"/>
<line x1="992.00" y1="878.75" x2="1009.50" y2="878.75" stroke="#1242e6" stroke-width="2.1"/>
<line x1="992.00" y1="909.50" x2="1009.50" y2="909.50" stroke="#1242e6" stroke-width="2.1"/>
<line x1="984.50" y1="894.25" x2="1016.25" y2="894.25" stroke="#000" stroke-width="2.1"/>
<path d="M1043.81 764.99 L1051.19 764.99 L1047.50 758.34 Z" fill="#e5381b"/>
<path d="M1043.81 835.49 L1051.19 835.49 L1047.50 828.84 Z" fill="#e5381b"/>
<path d="M1043.81 882.99 L1051.19 882.99 L1047.50 876.34 Z" fill="#e5381b"/>
<path d="M1043.81 894.24 L1051.19 894.24 L1047.50 887.59 Z" fill="#e5381b"/>
<path d="M1043.81 926.74 L1051.19 926.74 L1047.50 920.09 Z" fill="#e5381b"/>
<path d="M1036.31 931.29 L1043.69 931.29 L1040.00 924.64 Z" fill="#e5381b"/>
<path d="M1051.31 931.29 L1058.69 931.29 L1055.00 924.64 Z" fill="#e5381b"/>
<line x1="1047.50" y1="855.00" x2="1047.50" y2="902.00" stroke="#e5381b" stroke-width="2.1"/>
<line x1="1038.75" y1="855.00" x2="1056.25" y2="855.00" stroke="#e5381b" stroke-width="2.1"/>
<line x1="1038.75" y1="902.00" x2="1056.25" y2="902.00" stroke="#e5381b" stroke-width="2.1"/>
<line x1="1031.25" y1="878.25" x2="1063.25" y2="878.25" stroke="#000" stroke-width="2.1"/>
<line x1="922.50" y1="696.35" x2="922.50" y2="931.90" stroke="#000" stroke-width="2.3"/>
<line x1="912.50" y1="930.75" x2="1078.75" y2="930.75" stroke="#000" stroke-width="2.3"/>
<line x1="912.50" y1="697.50" x2="922.50" y2="697.50" stroke="#000" stroke-width="2.3"/>
<text x="910.50" y="706.56" font-size="25.3" text-anchor="end" stroke="#000">8×10<tspan dy="-9.11" font-size="17.71">4</tspan></text>
<line x1="912.50" y1="755.81" x2="922.50" y2="755.81" stroke="#000" stroke-width="2.3"/>
<text x="910.50" y="764.87" font-size="25.3" text-anchor="end" stroke="#000">6×10<tspan dy="-9.11" font-size="17.71">4</tspan></text>
<line x1="912.50" y1="814.12" x2="922.50" y2="814.12" stroke="#000" stroke-width="2.3"/>
<text x="910.50" y="823.18" font-size="25.3" text-anchor="end" stroke="#000">4×10<tspan dy="-9.11" font-size="17.71">4</tspan></text>
<line x1="912.50" y1="872.44" x2="922.50" y2="872.44" stroke="#000" stroke-width="2.3"/>
<text x="910.50" y="881.49" font-size="25.3" text-anchor="end" stroke="#000">2×10<tspan dy="-9.11" font-size="17.71">4</tspan></text>
<text x="910.50" y="939.81" font-size="25.3" text-anchor="end" stroke="#000">0</text>
<line x1="953.00" y1="930.75" x2="953.00" y2="941.90" stroke="#000" stroke-width="2.3"/>
<line x1="1000.50" y1="930.75" x2="1000.50" y2="941.90" stroke="#000" stroke-width="2.3"/>
<line x1="1047.50" y1="930.75" x2="1047.50" y2="941.90" stroke="#000" stroke-width="2.3"/>
</g>
<text x="1171.30" y="586.00" font-size="46.3" stroke="#000">d</text>
<g transform="translate(0 0)">
<text x="1380.40" y="632.00" font-size="25.1" text-anchor="middle" stroke="#000">Tumor: M1-like macrophages</text>
<text transform="translate(1196.50 813.00) rotate(-90)" font-size="23" text-anchor="middle" stroke="#000">MHCII<tspan dy="-6.67" font-size="13.80">+</tspan><tspan dy="6.67" dx="-0.69"> cells</tspan></text>
<text transform="translate(1224.30 813.00) rotate(-90)" font-size="23" text-anchor="middle" stroke="#000">(% of macrophages)</text>
<text transform="translate(1335.30 954.15) rotate(-45)" font-size="25.9" text-anchor="end" stroke="#000">PBS</text>
<text transform="translate(1384.05 954.15) rotate(-45)" font-size="25.9" text-anchor="end" stroke="#000">moDC-IL-12/FLT3L</text>
<text transform="translate(1432.80 954.15) rotate(-45)" font-size="25.9" text-anchor="end" stroke="#000">DCP-IL-12/FLT3L</text>
<path d="M1299.31 787.51 L1306.69 787.51 L1303.00 794.16 Z" fill="#000"/>
<path d="M1325.06 787.51 L1332.44 787.51 L1328.75 794.16 Z" fill="#000"/>
<path d="M1312.06 792.01 L1319.44 792.01 L1315.75 798.66 Z" fill="#000"/>
<path d="M1318.81 799.01 L1326.19 799.01 L1322.50 805.66 Z" fill="#000"/>
<path d="M1305.81 800.76 L1313.19 800.76 L1309.50 807.41 Z" fill="#000"/>
<path d="M1312.06 814.51 L1319.44 814.51 L1315.75 821.16 Z" fill="#000"/>
<path d="M1312.06 833.26 L1319.44 833.26 L1315.75 839.91 Z" fill="#000"/>
<line x1="1315.75" y1="800.00" x2="1315.75" y2="812.50" stroke="#000" stroke-width="2.1"/>
<line x1="1307.00" y1="800.00" x2="1324.50" y2="800.00" stroke="#000" stroke-width="2.1"/>
<line x1="1307.00" y1="812.50" x2="1324.50" y2="812.50" stroke="#000" stroke-width="2.1"/>
<line x1="1299.25" y1="806.25" x2="1332.00" y2="806.25" stroke="#000" stroke-width="2.1"/>
<circle cx="1364.25" cy="738.25" r="3.80" fill="#1242e6"/>
<circle cx="1364.25" cy="752.00" r="3.80" fill="#1242e6"/>
<circle cx="1364.25" cy="778.25" r="3.80" fill="#1242e6"/>
<circle cx="1364.25" cy="787.00" r="3.80" fill="#1242e6"/>
<circle cx="1371.25" cy="802.00" r="3.80" fill="#1242e6"/>
<circle cx="1357.00" cy="808.25" r="3.80" fill="#1242e6"/>
<circle cx="1364.25" cy="842.50" r="3.80" fill="#1242e6"/>
<circle cx="1364.25" cy="867.50" r="3.80" fill="#1242e6"/>
<line x1="1364.38" y1="781.75" x2="1364.38" y2="812.00" stroke="#1242e6" stroke-width="2.1"/>
<line x1="1355.75" y1="781.75" x2="1373.00" y2="781.75" stroke="#1242e6" stroke-width="2.1"/>
<line x1="1355.75" y1="812.00" x2="1373.00" y2="812.00" stroke="#1242e6" stroke-width="2.1"/>
<line x1="1348.25" y1="796.75" x2="1380.50" y2="796.75" stroke="#000" stroke-width="2.1"/>
<path d="M1401.81 729.99 L1409.19 729.99 L1405.50 723.34 Z" fill="#e5381b"/>
<path d="M1416.31 734.99 L1423.69 734.99 L1420.00 728.34 Z" fill="#e5381b"/>
<path d="M1401.81 746.74 L1409.19 746.74 L1405.50 740.09 Z" fill="#e5381b"/>
<path d="M1416.31 752.99 L1423.69 752.99 L1420.00 746.34 Z" fill="#e5381b"/>
<path d="M1408.81 767.99 L1416.19 767.99 L1412.50 761.34 Z" fill="#e5381b"/>
<path d="M1408.81 782.49 L1416.19 782.49 L1412.50 775.84 Z" fill="#e5381b"/>
<path d="M1408.81 790.99 L1416.19 790.99 L1412.50 784.34 Z" fill="#e5381b"/>
<line x1="1412.88" y1="746.25" x2="1412.88" y2="763.75" stroke="#e5381b" stroke-width="2.1"/>
<line x1="1404.50" y1="746.25" x2="1421.25" y2="746.25" stroke="#e5381b" stroke-width="2.1"/>
<line x1="1404.50" y1="763.75" x2="1421.25" y2="763.75" stroke="#e5381b" stroke-width="2.1"/>
<line x1="1396.25" y1="754.50" x2="1428.75" y2="754.50" stroke="#000" stroke-width="2.1"/>
<line x1="1282.50" y1="693.85" x2="1282.50" y2="934.90" stroke="#000" stroke-width="2.3"/>
<line x1="1272.50" y1="933.75" x2="1445.75" y2="933.75" stroke="#000" stroke-width="2.3"/>
<line x1="1272.50" y1="695.00" x2="1282.50" y2="695.00" stroke="#000" stroke-width="2.3"/>
<text x="1270.50" y="703.09" font-size="22.6" text-anchor="end" stroke="#000">100</text>
<line x1="1272.50" y1="742.75" x2="1282.50" y2="742.75" stroke="#000" stroke-width="2.3"/>
<text x="1270.50" y="750.84" font-size="22.6" text-anchor="end" stroke="#000">80</text>
<line x1="1272.50" y1="790.50" x2="1282.50" y2="790.50" stroke="#000" stroke-width="2.3"/>
<text x="1270.50" y="798.59" font-size="22.6" text-anchor="end" stroke="#000">60</text>
<line x1="1272.50" y1="838.25" x2="1282.50" y2="838.25" stroke="#000" stroke-width="2.3"/>
<text x="1270.50" y="846.34" font-size="22.6" text-anchor="end" stroke="#000">40</text>
<line x1="1272.50" y1="886.00" x2="1282.50" y2="886.00" stroke="#000" stroke-width="2.3"/>
<text x="1270.50" y="894.09" font-size="22.6" text-anchor="end" stroke="#000">20</text>
<text x="1270.50" y="941.84" font-size="22.6" text-anchor="end" stroke="#000">0</text>
<line x1="1315.00" y1="933.75" x2="1315.00" y2="944.90" stroke="#000" stroke-width="2.3"/>
<line x1="1363.75" y1="933.75" x2="1363.75" y2="944.90" stroke="#000" stroke-width="2.3"/>
<line x1="1412.50" y1="933.75" x2="1412.50" y2="944.90" stroke="#000" stroke-width="2.3"/>
<text x="1366.40" y="677.50" font-size="22.7" text-anchor="middle" fill="#222" stroke="#222">0.0147</text>
<line x1="1312.50" y1="687.50" x2="1412.50" y2="687.50" stroke="#000" stroke-width="2.1"/>
<text x="1382.90" y="710.00" font-size="22.7" text-anchor="middle" fill="#222" stroke="#222">0.0405</text>
<line x1="1359.50" y1="717.50" x2="1413.75" y2="717.50" stroke="#000" stroke-width="2.1"/>
</g>
<text x="14.30" y="1183.00" font-size="46.3" stroke="#000">e</text>
<defs>
<linearGradient id="gIL" x1="0" x2="1" y1="0" y2="0"><stop offset="0" stop-color="#3cb54a"/><stop offset="0.25" stop-color="#3fb56a"/><stop offset="1" stop-color="#3fa7df"/></linearGradient>
<linearGradient id="gFL" x1="0" x2="1" y1="0" y2="0"><stop offset="0" stop-color="#3f7fc8"/><stop offset="0.5" stop-color="#7a6cba"/><stop offset="1" stop-color="#b055ae"/></linearGradient>
<linearGradient id="gWP" x1="0" x2="1" y1="0" y2="0"><stop offset="0" stop-color="#74797d"/><stop offset="1" stop-color="#a3a9b1"/></linearGradient>
<linearGradient id="gPR" x1="0" x2="1" y1="0" y2="0"><stop offset="0" stop-color="#787c82"/><stop offset="1" stop-color="#a9adb3"/></linearGradient>
<linearGradient id="gGA" x1="0" x2="1" y1="0" y2="0"><stop offset="0" stop-color="#c9cdd3"/><stop offset="0.4" stop-color="#b4b9c1"/><stop offset="0.55" stop-color="#d3d6db"/><stop offset="1" stop-color="#b9bec6"/></linearGradient>
<radialGradient id="gLT" cx="0.5" cy="0.5" r="0.5" gradientTransform="translate(0.5 0.5) scale(1.6 1) translate(-0.5 -0.5)"><stop offset="0" stop-color="#6e7277"/><stop offset="1" stop-color="#989ea7"/></radialGradient>
<linearGradient id="gLL" x1="0" x2="1" y1="0" y2="0"><stop offset="0" stop-color="#b6bbc3"/><stop offset="0.5" stop-color="#dadde2"/><stop offset="1" stop-color="#c3c7ce"/></linearGradient>
</defs>
<rect x="142" y="1251.6" width="84.5" height="11.8" fill="#a3abb7"/>
<rect x="330" y="1251.6" width="15" height="11.8" fill="#a3abb7"/>
<rect x="777" y="1251.6" width="54" height="11.8" fill="#a3abb7"/>
<rect x="25" y="1220.2" width="11.4" height="82.4" fill="#c5c9d0"/>
<rect x="36.2" y="1220.2" width="15.8" height="82.4" fill="url(#gLT)"/>
<rect x="52" y="1241.9" width="90" height="35.4" fill="url(#gGA)"/>
<text x="60.00" y="1265.00" font-size="22.5" fill="#26282b" stroke="#26282b" textLength="25.8" lengthAdjust="spacingAndGlyphs" style="stroke-width:0">GA</text>
<text x="101.00" y="1265.00" font-size="22.5" fill="#26282b" stroke="#26282b" textLength="37.4" lengthAdjust="spacingAndGlyphs" style="stroke-width:0">RRE</text>
<path d="M226 1240.5 L310.5 1240.5 L310.5 1225.7 L331.6 1254.4 L310.5 1283.1 L310.5 1268.9 L226 1268.9 Z" fill="url(#gPR)"/>
<text x="232.50" y="1260.50" font-size="23.3" fill="#fff" stroke="#fff" font-style="italic" style="stroke-width:0">Promoter</text>
<rect x="344.5" y="1235.8" width="112.2" height="40.9" fill="url(#gIL)"/>
<rect x="456.2" y="1235.8" width="58.6" height="40.9" fill="#e6128c"/>
<rect x="514.6" y="1235.8" width="153.4" height="40.9" fill="url(#gFL)"/>
<rect x="667.8" y="1235.8" width="109.2" height="40.9" fill="url(#gWP)"/>
<text x="401.30" y="1264.70" font-size="23" text-anchor="middle" fill="#fff" stroke="#fff" style="stroke-width:0">IL-12</text>
<text x="486.80" y="1264.70" font-size="23" text-anchor="middle" fill="#fff" stroke="#fff" style="stroke-width:0">P2A</text>
<text x="592.60" y="1264.70" font-size="23" text-anchor="middle" fill="#fff" stroke="#fff" style="stroke-width:0">FLT3L</text>
<text x="716.80" y="1264.70" font-size="23" text-anchor="middle" fill="#fff" stroke="#fff" style="stroke-width:0">WPRE</text>
<rect x="830.7" y="1214.9" width="11.3" height="81.9" fill="#2f3234"/>
<rect x="841.8" y="1214.9" width="19.7" height="81.9" fill="url(#gLL)"/>
<rect x="861.3" y="1214.9" width="21.5" height="81.9" fill="url(#gLT)"/>
<path d="M337 1235.8 L337 1196.8 L782 1196.8" fill="none" stroke="#111" stroke-width="2"/>
<path d="M778.3 1187 L811.8 1196.4 L778.3 1205.7 Z" fill="#111"/>
<text x="566.00" y="1186.20" font-size="30" text-anchor="middle" stroke="#000">IL-12-P2A-FLT3L</text>
<text x="15.00" y="1383.20" font-size="46.8" stroke="#000" style="stroke-width:0.7px">f</text>
<text x="282.20" y="1378.70" font-size="22" text-anchor="middle" stroke="#000">B16F10: PBS</text>
<line x1="106.60" y1="1416.00" x2="106.60" y2="1651.30" stroke="#000" stroke-width="2.0"/>
<line x1="97.10" y1="1650.30" x2="457.90" y2="1650.30" stroke="#000" stroke-width="2.0"/>
<line x1="97.10" y1="1417.00" x2="106.60" y2="1417.00" stroke="#000" stroke-width="2.0"/>
<text x="95.10" y="1424.88" font-size="22" text-anchor="end" stroke="#000">1200</text>
<line x1="97.10" y1="1455.88" x2="106.60" y2="1455.88" stroke="#000" stroke-width="2.0"/>
<text x="95.10" y="1463.76" font-size="22" text-anchor="end" stroke="#000">1000</text>
<line x1="97.10" y1="1494.77" x2="106.60" y2="1494.77" stroke="#000" stroke-width="2.0"/>
<text x="95.10" y="1502.64" font-size="22" text-anchor="end" stroke="#000">800</text>
<line x1="97.10" y1="1533.65" x2="106.60" y2="1533.65" stroke="#000" stroke-width="2.0"/>
<text x="95.10" y="1541.53" font-size="22" text-anchor="end" stroke="#000">600</text>
<line x1="97.10" y1="1572.53" x2="106.60" y2="1572.53" stroke="#000" stroke-width="2.0"/>
<text x="95.10" y="1580.41" font-size="22" text-anchor="end" stroke="#000">400</text>
<line x1="97.10" y1="1611.42" x2="106.60" y2="1611.42" stroke="#000" stroke-width="2.0"/>
<text x="95.10" y="1619.29" font-size="22" text-anchor="end" stroke="#000">200</text>
<text x="95.10" y="1658.18" font-size="22" text-anchor="end" stroke="#000">0</text>
<line x1="106.60" y1="1650.30" x2="106.60" y2="1660.80" stroke="#000" stroke-width="2.0"/>
<line x1="194.40" y1="1650.30" x2="194.40" y2="1660.80" stroke="#000" stroke-width="2.0"/>
<line x1="282.20" y1="1650.30" x2="282.20" y2="1660.80" stroke="#000" stroke-width="2.0"/>
<line x1="370.00" y1="1650.30" x2="370.00" y2="1660.80" stroke="#000" stroke-width="2.0"/>
<line x1="457.80" y1="1650.30" x2="457.80" y2="1660.80" stroke="#000" stroke-width="2.0"/>
<text x="106.60" y="1683.10" font-size="22" text-anchor="middle" stroke="#000">0</text>
<text x="194.40" y="1683.10" font-size="22" text-anchor="middle" stroke="#000">5</text>
<text x="282.20" y="1683.10" font-size="22" text-anchor="middle" stroke="#000">10</text>
<text x="370.00" y="1683.10" font-size="22" text-anchor="middle" stroke="#000">15</text>
<text x="457.80" y="1683.10" font-size="22" text-anchor="middle" stroke="#000">20</text>
<text transform="translate(35.25 1532.20) rotate(-90)" font-size="22" text-anchor="middle" stroke="#000">Tumor volume (mm<tspan dy="-8.58" font-size="15.84">3</tspan><tspan dy="8.58" dx="0.00">)</tspan></text>
<text x="282.50" y="1719.80" font-size="22" text-anchor="middle" stroke="#000">Days post tumor injection</text>
<polyline points="106.6,1650.3 229.5,1629.9 282.2,1557.6 317.3,1502.5 352.4,1424.6" fill="none" stroke="#000" stroke-width="2.1" stroke-linejoin="round"/>
<polyline points="106.6,1650.3 229.5,1639.6 282.2,1589.4 317.3,1471.0 352.4,1479.6" fill="none" stroke="#000" stroke-width="2.1" stroke-linejoin="round"/>
<polyline points="106.6,1650.3 229.5,1632.4 282.2,1580.9 317.3,1575.8 352.4,1524.3" fill="none" stroke="#000" stroke-width="2.1" stroke-linejoin="round"/>
<polyline points="106.6,1650.3 229.5,1634.7 282.2,1593.1 317.3,1545.9 352.4,1509.3" fill="none" stroke="#000" stroke-width="2.1" stroke-linejoin="round"/>
<polyline points="106.6,1650.3 229.5,1637.1 282.2,1592.0 317.3,1565.3 352.4,1525.9" fill="none" stroke="#000" stroke-width="2.1" stroke-linejoin="round"/>
<polyline points="106.6,1650.3 229.5,1640.6 282.2,1616.7 317.3,1596.1 352.4,1561.1" fill="none" stroke="#000" stroke-width="2.1" stroke-linejoin="round"/>
<polyline points="106.6,1650.3 229.5,1642.1 282.2,1620.9 317.3,1604.6 352.4,1612.8" fill="none" stroke="#000" stroke-width="2.1" stroke-linejoin="round"/>
<polyline points="106.6,1650.3 229.5,1647.4 282.2,1641.4 317.3,1609.5 352.4,1590.0" fill="none" stroke="#000" stroke-width="2.1" stroke-linejoin="round"/>
<path d="M101.94 1646.52 L111.26 1646.52 L106.60 1654.92 Z" fill="#000"/>
<path d="M224.86 1626.11 L234.18 1626.11 L229.52 1634.51 Z" fill="#000"/>
<path d="M277.54 1553.78 L286.86 1553.78 L282.20 1562.18 Z" fill="#000"/>
<path d="M312.66 1498.76 L321.98 1498.76 L317.32 1507.16 Z" fill="#000"/>
<path d="M347.78 1420.80 L357.10 1420.80 L352.44 1429.20 Z" fill="#000"/>
<path d="M101.94 1646.52 L111.26 1646.52 L106.60 1654.92 Z" fill="#000"/>
<path d="M224.86 1635.83 L234.18 1635.83 L229.52 1644.23 Z" fill="#000"/>
<path d="M277.54 1585.67 L286.86 1585.67 L282.20 1594.07 Z" fill="#000"/>
<path d="M312.66 1467.27 L321.98 1467.27 L317.32 1475.67 Z" fill="#000"/>
<path d="M347.78 1475.82 L357.10 1475.82 L352.44 1484.22 Z" fill="#000"/>
<path d="M101.94 1646.52 L111.26 1646.52 L106.60 1654.92 Z" fill="#000"/>
<path d="M224.86 1628.63 L234.18 1628.63 L229.52 1637.03 Z" fill="#000"/>
<path d="M277.54 1577.11 L286.86 1577.11 L282.20 1585.51 Z" fill="#000"/>
<path d="M312.66 1572.06 L321.98 1572.06 L317.32 1580.46 Z" fill="#000"/>
<path d="M347.78 1520.54 L357.10 1520.54 L352.44 1528.94 Z" fill="#000"/>
<path d="M101.94 1646.52 L111.26 1646.52 L106.60 1654.92 Z" fill="#000"/>
<path d="M224.86 1630.97 L234.18 1630.97 L229.52 1639.37 Z" fill="#000"/>
<path d="M277.54 1589.36 L286.86 1589.36 L282.20 1597.76 Z" fill="#000"/>
<path d="M312.66 1542.12 L321.98 1542.12 L317.32 1550.52 Z" fill="#000"/>
<path d="M347.78 1505.57 L357.10 1505.57 L352.44 1513.97 Z" fill="#000"/>
<path d="M101.94 1646.52 L111.26 1646.52 L106.60 1654.92 Z" fill="#000"/>
<path d="M224.86 1633.30 L234.18 1633.30 L229.52 1641.70 Z" fill="#000"/>
<path d="M277.54 1588.19 L286.86 1588.19 L282.20 1596.59 Z" fill="#000"/>
<path d="M312.66 1561.56 L321.98 1561.56 L317.32 1569.96 Z" fill="#000"/>
<path d="M347.78 1522.09 L357.10 1522.09 L352.44 1530.49 Z" fill="#000"/>
<path d="M101.94 1646.52 L111.26 1646.52 L106.60 1654.92 Z" fill="#000"/>
<path d="M224.86 1636.80 L234.18 1636.80 L229.52 1645.20 Z" fill="#000"/>
<path d="M277.54 1612.89 L286.86 1612.89 L282.20 1621.29 Z" fill="#000"/>
<path d="M312.66 1592.28 L321.98 1592.28 L317.32 1600.68 Z" fill="#000"/>
<path d="M347.78 1557.28 L357.10 1557.28 L352.44 1565.68 Z" fill="#000"/>
<path d="M101.94 1646.52 L111.26 1646.52 L106.60 1654.92 Z" fill="#000"/>
<path d="M224.86 1638.35 L234.18 1638.35 L229.52 1646.75 Z" fill="#000"/>
<path d="M277.54 1617.16 L286.86 1617.16 L282.20 1625.56 Z" fill="#000"/>
<path d="M312.66 1600.83 L321.98 1600.83 L317.32 1609.23 Z" fill="#000"/>
<path d="M347.78 1609.00 L357.10 1609.00 L352.44 1617.40 Z" fill="#000"/>
<path d="M101.94 1646.52 L111.26 1646.52 L106.60 1654.92 Z" fill="#000"/>
<path d="M224.86 1643.60 L234.18 1643.60 L229.52 1652.00 Z" fill="#000"/>
<path d="M277.54 1637.58 L286.86 1637.58 L282.20 1645.98 Z" fill="#000"/>
<path d="M312.66 1605.69 L321.98 1605.69 L317.32 1614.09 Z" fill="#000"/>
<path d="M347.78 1586.25 L357.10 1586.25 L352.44 1594.65 Z" fill="#000"/>
<text x="786.80" y="1380.90" font-size="22" text-anchor="middle" stroke="#000">B16F10: moDC-IL-12/FLT3L (1 × 10<tspan dy="-7.92" font-size="15.40">6</tspan><tspan dy="7.92" dx="0.00">)</tspan></text>
<line x1="613.50" y1="1420.10" x2="613.50" y2="1652.70" stroke="#000" stroke-width="2.0"/>
<line x1="604.00" y1="1651.70" x2="960.00" y2="1651.70" stroke="#000" stroke-width="2.0"/>
<line x1="604.00" y1="1421.10" x2="613.50" y2="1421.10" stroke="#000" stroke-width="2.0"/>
<text x="602.00" y="1428.98" font-size="22" text-anchor="end" stroke="#000">1200</text>
<line x1="604.00" y1="1459.53" x2="613.50" y2="1459.53" stroke="#000" stroke-width="2.0"/>
<text x="602.00" y="1467.41" font-size="22" text-anchor="end" stroke="#000">1000</text>
<line x1="604.00" y1="1497.97" x2="613.50" y2="1497.97" stroke="#000" stroke-width="2.0"/>
<text x="602.00" y="1505.84" font-size="22" text-anchor="end" stroke="#000">800</text>
<line x1="604.00" y1="1536.40" x2="613.50" y2="1536.40" stroke="#000" stroke-width="2.0"/>
<text x="602.00" y="1544.28" font-size="22" text-anchor="end" stroke="#000">600</text>
<line x1="604.00" y1="1574.83" x2="613.50" y2="1574.83" stroke="#000" stroke-width="2.0"/>
<text x="602.00" y="1582.71" font-size="22" text-anchor="end" stroke="#000">400</text>
<line x1="604.00" y1="1613.27" x2="613.50" y2="1613.27" stroke="#000" stroke-width="2.0"/>
<text x="602.00" y="1621.14" font-size="22" text-anchor="end" stroke="#000">200</text>
<text x="602.00" y="1659.58" font-size="22" text-anchor="end" stroke="#000">0</text>
<line x1="613.50" y1="1651.70" x2="613.50" y2="1662.20" stroke="#000" stroke-width="2.0"/>
<line x1="700.13" y1="1651.70" x2="700.13" y2="1662.20" stroke="#000" stroke-width="2.0"/>
<line x1="786.76" y1="1651.70" x2="786.76" y2="1662.20" stroke="#000" stroke-width="2.0"/>
<line x1="873.39" y1="1651.70" x2="873.39" y2="1662.20" stroke="#000" stroke-width="2.0"/>
<line x1="960.02" y1="1651.70" x2="960.02" y2="1662.20" stroke="#000" stroke-width="2.0"/>
<text x="613.50" y="1683.50" font-size="22" text-anchor="middle" stroke="#000">0</text>
<text x="700.13" y="1683.50" font-size="22" text-anchor="middle" stroke="#000">5</text>
<text x="786.76" y="1683.50" font-size="22" text-anchor="middle" stroke="#000">10</text>
<text x="873.39" y="1683.50" font-size="22" text-anchor="middle" stroke="#000">15</text>
<text x="960.02" y="1683.50" font-size="22" text-anchor="middle" stroke="#000">20</text>
<text transform="translate(543.90 1531.40) rotate(-90)" font-size="22" text-anchor="middle" stroke="#000">Tumor volume (mm<tspan dy="-8.58" font-size="15.84">3</tspan><tspan dy="8.58" dx="0.00">)</tspan></text>
<text x="787.10" y="1719.80" font-size="22" text-anchor="middle" stroke="#000">Days post tumor injection</text>
<polyline points="613.5,1651.7 734.8,1634.4 786.8,1610.4 821.4,1572.0 856.1,1536.4 908.0,1492.2" fill="none" stroke="#5a1e96" stroke-width="2.1" stroke-linejoin="round"/>
<polyline points="613.5,1651.7 734.8,1637.3 786.8,1617.1 821.4,1577.7 856.1,1551.8 908.0,1495.1" fill="none" stroke="#5a1e96" stroke-width="2.1" stroke-linejoin="round"/>
<polyline points="613.5,1651.7 734.8,1643.1 786.8,1623.8 821.4,1584.4 856.1,1560.4 908.0,1504.7" fill="none" stroke="#5a1e96" stroke-width="2.1" stroke-linejoin="round"/>
<polyline points="613.5,1651.7 734.8,1642.1 786.8,1635.4 821.4,1611.3 856.1,1596.9 908.0,1430.7" fill="none" stroke="#5a1e96" stroke-width="2.1" stroke-linejoin="round"/>
<polyline points="613.5,1651.7 734.8,1640.2 786.8,1618.1 821.4,1608.5 856.1,1609.4 908.0,1602.7" fill="none" stroke="#5a1e96" stroke-width="2.1" stroke-linejoin="round"/>
<polyline points="613.5,1651.7 734.8,1648.8 786.8,1645.0 821.4,1643.6 856.1,1639.2 908.0,1645.0" fill="none" stroke="#5a1e96" stroke-width="2.1" stroke-linejoin="round"/>
<circle cx="613.50" cy="1651.70" r="4.30" fill="#5a1e96"/>
<circle cx="734.78" cy="1634.40" r="4.30" fill="#5a1e96"/>
<circle cx="786.76" cy="1610.38" r="4.30" fill="#5a1e96"/>
<circle cx="821.41" cy="1571.95" r="4.30" fill="#5a1e96"/>
<circle cx="856.06" cy="1536.40" r="4.30" fill="#5a1e96"/>
<circle cx="908.04" cy="1492.20" r="4.30" fill="#5a1e96"/>
<circle cx="613.50" cy="1651.70" r="4.30" fill="#5a1e96"/>
<circle cx="734.78" cy="1637.29" r="4.30" fill="#5a1e96"/>
<circle cx="786.76" cy="1617.11" r="4.30" fill="#5a1e96"/>
<circle cx="821.41" cy="1577.72" r="4.30" fill="#5a1e96"/>
<circle cx="856.06" cy="1551.77" r="4.30" fill="#5a1e96"/>
<circle cx="908.04" cy="1495.08" r="4.30" fill="#5a1e96"/>
<circle cx="613.50" cy="1651.70" r="4.30" fill="#5a1e96"/>
<circle cx="734.78" cy="1643.05" r="4.30" fill="#5a1e96"/>
<circle cx="786.76" cy="1623.84" r="4.30" fill="#5a1e96"/>
<circle cx="821.41" cy="1584.44" r="4.30" fill="#5a1e96"/>
<circle cx="856.06" cy="1560.42" r="4.30" fill="#5a1e96"/>
<circle cx="908.04" cy="1504.69" r="4.30" fill="#5a1e96"/>
<circle cx="613.50" cy="1651.70" r="4.30" fill="#5a1e96"/>
<circle cx="734.78" cy="1642.09" r="4.30" fill="#5a1e96"/>
<circle cx="786.76" cy="1635.37" r="4.30" fill="#5a1e96"/>
<circle cx="821.41" cy="1611.35" r="4.30" fill="#5a1e96"/>
<circle cx="856.06" cy="1596.93" r="4.30" fill="#5a1e96"/>
<circle cx="908.04" cy="1430.71" r="4.30" fill="#5a1e96"/>
<circle cx="613.50" cy="1651.70" r="4.30" fill="#5a1e96"/>
<circle cx="734.78" cy="1640.17" r="4.30" fill="#5a1e96"/>
<circle cx="786.76" cy="1618.07" r="4.30" fill="#5a1e96"/>
<circle cx="821.41" cy="1608.46" r="4.30" fill="#5a1e96"/>
<circle cx="856.06" cy="1609.42" r="4.30" fill="#5a1e96"/>
<circle cx="908.04" cy="1602.70" r="4.30" fill="#5a1e96"/>
<circle cx="613.50" cy="1651.70" r="4.30" fill="#5a1e96"/>
<circle cx="734.78" cy="1648.82" r="4.30" fill="#5a1e96"/>
<circle cx="786.76" cy="1644.97" r="4.30" fill="#5a1e96"/>
<circle cx="821.41" cy="1643.63" r="4.30" fill="#5a1e96"/>
<circle cx="856.06" cy="1639.21" r="4.30" fill="#5a1e96"/>
<circle cx="908.04" cy="1644.97" r="4.30" fill="#5a1e96"/>
<text x="1265.30" y="1381.50" font-size="22.4" text-anchor="middle" stroke="#000">B16F10: moDC-IL-12/FLT3L (2 × 10<tspan dy="-8.06" font-size="15.68">6</tspan><tspan dy="8.06" dx="0.00">)</tspan></text>
<line x1="1115.90" y1="1412.00" x2="1115.90" y2="1650.70" stroke="#000" stroke-width="2.0"/>
<line x1="1106.40" y1="1649.70" x2="1471.50" y2="1649.70" stroke="#000" stroke-width="2.0"/>
<line x1="1106.40" y1="1413.00" x2="1115.90" y2="1413.00" stroke="#000" stroke-width="2.0"/>
<text x="1104.40" y="1421.02" font-size="22.4" text-anchor="end" stroke="#000">1200</text>
<line x1="1106.40" y1="1452.45" x2="1115.90" y2="1452.45" stroke="#000" stroke-width="2.0"/>
<text x="1104.40" y="1460.47" font-size="22.4" text-anchor="end" stroke="#000">1000</text>
<line x1="1106.40" y1="1491.90" x2="1115.90" y2="1491.90" stroke="#000" stroke-width="2.0"/>
<text x="1104.40" y="1499.92" font-size="22.4" text-anchor="end" stroke="#000">800</text>
<line x1="1106.40" y1="1531.35" x2="1115.90" y2="1531.35" stroke="#000" stroke-width="2.0"/>
<text x="1104.40" y="1539.37" font-size="22.4" text-anchor="end" stroke="#000">600</text>
<line x1="1106.40" y1="1570.80" x2="1115.90" y2="1570.80" stroke="#000" stroke-width="2.0"/>
<text x="1104.40" y="1578.82" font-size="22.4" text-anchor="end" stroke="#000">400</text>
<line x1="1106.40" y1="1610.25" x2="1115.90" y2="1610.25" stroke="#000" stroke-width="2.0"/>
<text x="1104.40" y="1618.27" font-size="22.4" text-anchor="end" stroke="#000">200</text>
<text x="1104.40" y="1657.72" font-size="22.4" text-anchor="end" stroke="#000">0</text>
<line x1="1115.90" y1="1649.70" x2="1115.90" y2="1660.20" stroke="#000" stroke-width="2.0"/>
<line x1="1204.80" y1="1649.70" x2="1204.80" y2="1660.20" stroke="#000" stroke-width="2.0"/>
<line x1="1293.70" y1="1649.70" x2="1293.70" y2="1660.20" stroke="#000" stroke-width="2.0"/>
<line x1="1382.60" y1="1649.70" x2="1382.60" y2="1660.20" stroke="#000" stroke-width="2.0"/>
<line x1="1471.50" y1="1649.70" x2="1471.50" y2="1660.20" stroke="#000" stroke-width="2.0"/>
<text x="1115.90" y="1682.00" font-size="22.4" text-anchor="middle" stroke="#000">0</text>
<text x="1204.80" y="1682.00" font-size="22.4" text-anchor="middle" stroke="#000">5</text>
<text x="1293.70" y="1682.00" font-size="22.4" text-anchor="middle" stroke="#000">10</text>
<text x="1382.60" y="1682.00" font-size="22.4" text-anchor="middle" stroke="#000">15</text>
<text x="1471.50" y="1682.00" font-size="22.4" text-anchor="middle" stroke="#000">20</text>
<text transform="translate(1043.90 1529.20) rotate(-90)" font-size="22.4" text-anchor="middle" stroke="#000">Tumor volume (mm<tspan dy="-8.74" font-size="16.13">3</tspan><tspan dy="8.74" dx="0.00">)</tspan></text>
<text x="1294.30" y="1718.30" font-size="22.4" text-anchor="middle" stroke="#000">Days post tumor injection</text>
<polyline points="1115.9,1649.7 1240.4,1630.0 1293.7,1619.9 1329.3,1617.9 1364.8,1604.7 1418.2,1596.8" fill="none" stroke="#1242e6" stroke-width="2.1" stroke-linejoin="round"/>
<polyline points="1115.9,1649.7 1240.4,1636.9 1293.7,1636.9 1329.3,1623.3 1364.8,1624.8 1418.2,1564.3" fill="none" stroke="#1242e6" stroke-width="2.1" stroke-linejoin="round"/>
<polyline points="1115.9,1649.7 1240.4,1637.5 1293.7,1637.9 1329.3,1624.1 1364.8,1625.2 1418.2,1620.3" fill="none" stroke="#1242e6" stroke-width="2.1" stroke-linejoin="round"/>
<polyline points="1115.9,1649.7 1240.4,1639.8 1293.7,1640.6 1329.3,1632.3 1364.8,1630.8 1418.2,1590.7" fill="none" stroke="#1242e6" stroke-width="2.1" stroke-linejoin="round"/>
<polyline points="1115.9,1649.7 1240.4,1646.0 1293.7,1640.6 1329.3,1638.5 1364.8,1636.9 1418.2,1603.7" fill="none" stroke="#1242e6" stroke-width="2.1" stroke-linejoin="round"/>
<polyline points="1115.9,1649.7 1240.4,1648.1 1293.7,1644.4 1329.3,1632.3 1364.8,1643.0 1418.2,1636.1" fill="none" stroke="#1242e6" stroke-width="2.1" stroke-linejoin="round"/>
<polyline points="1115.9,1649.7 1240.4,1646.0 1293.7,1644.4 1329.3,1643.8 1364.8,1630.8 1418.2,1628.6" fill="none" stroke="#1242e6" stroke-width="2.1" stroke-linejoin="round"/>
<rect x="1111.40" y="1645.20" width="9.00" height="9.00" fill="#1242e6"/>
<rect x="1235.86" y="1625.48" width="9.00" height="9.00" fill="#1242e6"/>
<rect x="1289.20" y="1615.42" width="9.00" height="9.00" fill="#1242e6"/>
<rect x="1324.76" y="1613.44" width="9.00" height="9.00" fill="#1242e6"/>
<rect x="1360.32" y="1600.23" width="9.00" height="9.00" fill="#1242e6"/>
<rect x="1413.66" y="1592.34" width="9.00" height="9.00" fill="#1242e6"/>
<rect x="1111.40" y="1645.20" width="9.00" height="9.00" fill="#1242e6"/>
<rect x="1235.86" y="1632.38" width="9.00" height="9.00" fill="#1242e6"/>
<rect x="1289.20" y="1632.38" width="9.00" height="9.00" fill="#1242e6"/>
<rect x="1324.76" y="1618.77" width="9.00" height="9.00" fill="#1242e6"/>
<rect x="1360.32" y="1620.35" width="9.00" height="9.00" fill="#1242e6"/>
<rect x="1413.66" y="1559.79" width="9.00" height="9.00" fill="#1242e6"/>
<rect x="1111.40" y="1645.20" width="9.00" height="9.00" fill="#1242e6"/>
<rect x="1235.86" y="1632.97" width="9.00" height="9.00" fill="#1242e6"/>
<rect x="1289.20" y="1633.37" width="9.00" height="9.00" fill="#1242e6"/>
<rect x="1324.76" y="1619.56" width="9.00" height="9.00" fill="#1242e6"/>
<rect x="1360.32" y="1620.74" width="9.00" height="9.00" fill="#1242e6"/>
<rect x="1413.66" y="1615.81" width="9.00" height="9.00" fill="#1242e6"/>
<rect x="1111.40" y="1645.20" width="9.00" height="9.00" fill="#1242e6"/>
<rect x="1235.86" y="1635.34" width="9.00" height="9.00" fill="#1242e6"/>
<rect x="1289.20" y="1636.13" width="9.00" height="9.00" fill="#1242e6"/>
<rect x="1324.76" y="1627.84" width="9.00" height="9.00" fill="#1242e6"/>
<rect x="1360.32" y="1626.26" width="9.00" height="9.00" fill="#1242e6"/>
<rect x="1413.66" y="1586.22" width="9.00" height="9.00" fill="#1242e6"/>
<rect x="1111.40" y="1645.20" width="9.00" height="9.00" fill="#1242e6"/>
<rect x="1235.86" y="1641.45" width="9.00" height="9.00" fill="#1242e6"/>
<rect x="1289.20" y="1636.13" width="9.00" height="9.00" fill="#1242e6"/>
<rect x="1324.76" y="1633.96" width="9.00" height="9.00" fill="#1242e6"/>
<rect x="1360.32" y="1632.38" width="9.00" height="9.00" fill="#1242e6"/>
<rect x="1413.66" y="1599.24" width="9.00" height="9.00" fill="#1242e6"/>
<rect x="1111.40" y="1645.20" width="9.00" height="9.00" fill="#1242e6"/>
<rect x="1235.86" y="1643.62" width="9.00" height="9.00" fill="#1242e6"/>
<rect x="1289.20" y="1639.87" width="9.00" height="9.00" fill="#1242e6"/>
<rect x="1324.76" y="1627.84" width="9.00" height="9.00" fill="#1242e6"/>
<rect x="1360.32" y="1638.49" width="9.00" height="9.00" fill="#1242e6"/>
<rect x="1413.66" y="1631.59" width="9.00" height="9.00" fill="#1242e6"/>
<rect x="1111.40" y="1645.20" width="9.00" height="9.00" fill="#1242e6"/>
<rect x="1235.86" y="1641.45" width="9.00" height="9.00" fill="#1242e6"/>
<rect x="1289.20" y="1639.87" width="9.00" height="9.00" fill="#1242e6"/>
<rect x="1324.76" y="1639.28" width="9.00" height="9.00" fill="#1242e6"/>
<rect x="1360.32" y="1626.26" width="9.00" height="9.00" fill="#1242e6"/>
<rect x="1413.66" y="1624.09" width="9.00" height="9.00" fill="#1242e6"/>
<text x="1806.00" y="1381.50" font-size="22" text-anchor="middle" stroke="#000">B16F10: DCP-IL-12/FLT3L (1 × 10<tspan dy="-7.92" font-size="15.40">6</tspan><tspan dy="7.92" dx="0.00">)</tspan></text>
<line x1="1630.00" y1="1416.20" x2="1630.00" y2="1652.20" stroke="#000" stroke-width="2.0"/>
<line x1="1620.50" y1="1651.20" x2="1981.90" y2="1651.20" stroke="#000" stroke-width="2.0"/>
<line x1="1620.50" y1="1417.20" x2="1630.00" y2="1417.20" stroke="#000" stroke-width="2.0"/>
<text x="1618.50" y="1425.08" font-size="22" text-anchor="end" stroke="#000">1200</text>
<line x1="1620.50" y1="1456.20" x2="1630.00" y2="1456.20" stroke="#000" stroke-width="2.0"/>
<text x="1618.50" y="1464.08" font-size="22" text-anchor="end" stroke="#000">1000</text>
<line x1="1620.50" y1="1495.20" x2="1630.00" y2="1495.20" stroke="#000" stroke-width="2.0"/>
<text x="1618.50" y="1503.08" font-size="22" text-anchor="end" stroke="#000">800</text>
<line x1="1620.50" y1="1534.20" x2="1630.00" y2="1534.20" stroke="#000" stroke-width="2.0"/>
<text x="1618.50" y="1542.08" font-size="22" text-anchor="end" stroke="#000">600</text>
<line x1="1620.50" y1="1573.20" x2="1630.00" y2="1573.20" stroke="#000" stroke-width="2.0"/>
<text x="1618.50" y="1581.08" font-size="22" text-anchor="end" stroke="#000">400</text>
<line x1="1620.50" y1="1612.20" x2="1630.00" y2="1612.20" stroke="#000" stroke-width="2.0"/>
<text x="1618.50" y="1620.08" font-size="22" text-anchor="end" stroke="#000">200</text>
<text x="1618.50" y="1659.08" font-size="22" text-anchor="end" stroke="#000">0</text>
<line x1="1630.00" y1="1651.20" x2="1630.00" y2="1661.70" stroke="#000" stroke-width="2.0"/>
<line x1="1717.93" y1="1651.20" x2="1717.93" y2="1661.70" stroke="#000" stroke-width="2.0"/>
<line x1="1805.86" y1="1651.20" x2="1805.86" y2="1661.70" stroke="#000" stroke-width="2.0"/>
<line x1="1893.79" y1="1651.20" x2="1893.79" y2="1661.70" stroke="#000" stroke-width="2.0"/>
<line x1="1981.72" y1="1651.20" x2="1981.72" y2="1661.70" stroke="#000" stroke-width="2.0"/>
<text x="1630.00" y="1683.50" font-size="22" text-anchor="middle" stroke="#000">0</text>
<text x="1717.93" y="1683.50" font-size="22" text-anchor="middle" stroke="#000">5</text>
<text x="1805.86" y="1683.50" font-size="22" text-anchor="middle" stroke="#000">10</text>
<text x="1893.79" y="1683.50" font-size="22" text-anchor="middle" stroke="#000">15</text>
<text x="1981.72" y="1683.50" font-size="22" text-anchor="middle" stroke="#000">20</text>
<text transform="translate(1559.30 1531.40) rotate(-90)" font-size="22" text-anchor="middle" stroke="#000">Tumor volume (mm<tspan dy="-8.58" font-size="15.84">3</tspan><tspan dy="8.58" dx="0.00">)</tspan></text>
<text x="1806.00" y="1719.80" font-size="22" text-anchor="middle" stroke="#000">Days post tumor injection</text>
<polyline points="1630.0,1651.2 1753.1,1632.1 1805.9,1615.5 1841.0,1603.4 1876.2,1607.1 1929.0,1613.2" fill="none" stroke="#eb3518" stroke-width="2.1" stroke-linejoin="round"/>
<polyline points="1630.0,1651.2 1753.1,1642.4 1805.9,1640.5 1841.0,1637.5 1876.2,1641.5 1929.0,1627.8" fill="none" stroke="#eb3518" stroke-width="2.1" stroke-linejoin="round"/>
<polyline points="1630.0,1651.2 1753.1,1644.4 1805.9,1642.4 1841.0,1643.4 1876.2,1637.5 1929.0,1629.8" fill="none" stroke="#eb3518" stroke-width="2.1" stroke-linejoin="round"/>
<polyline points="1630.0,1651.2 1753.1,1645.4 1805.9,1644.4 1841.0,1640.5 1876.2,1645.4 1929.0,1631.7" fill="none" stroke="#eb3518" stroke-width="2.1" stroke-linejoin="round"/>
<polyline points="1630.0,1651.2 1753.1,1646.3 1805.9,1645.4 1841.0,1645.4 1876.2,1650.2 1929.0,1640.5" fill="none" stroke="#eb3518" stroke-width="2.1" stroke-linejoin="round"/>
<polyline points="1630.0,1651.2 1753.1,1647.3 1805.9,1646.3 1841.0,1647.3 1876.2,1648.3 1929.0,1643.4" fill="none" stroke="#eb3518" stroke-width="2.1" stroke-linejoin="round"/>
<polyline points="1630.0,1651.2 1753.1,1643.4 1805.9,1641.5 1841.0,1642.4 1876.2,1642.4 1929.0,1632.7" fill="none" stroke="#eb3518" stroke-width="2.1" stroke-linejoin="round"/>
<path d="M1625.44 1654.90 L1634.56 1654.90 L1630.00 1646.68 Z" fill="#eb3518"/>
<path d="M1748.54 1635.79 L1757.66 1635.79 L1753.10 1627.57 Z" fill="#eb3518"/>
<path d="M1801.30 1619.22 L1810.42 1619.22 L1805.86 1610.99 Z" fill="#eb3518"/>
<path d="M1836.47 1607.13 L1845.59 1607.13 L1841.03 1598.90 Z" fill="#eb3518"/>
<path d="M1871.64 1610.83 L1880.76 1610.83 L1876.20 1602.61 Z" fill="#eb3518"/>
<path d="M1924.40 1616.88 L1933.52 1616.88 L1928.96 1608.65 Z" fill="#eb3518"/>
<path d="M1625.44 1654.90 L1634.56 1654.90 L1630.00 1646.68 Z" fill="#eb3518"/>
<path d="M1748.54 1646.13 L1757.66 1646.13 L1753.10 1637.90 Z" fill="#eb3518"/>
<path d="M1801.30 1644.18 L1810.42 1644.18 L1805.86 1635.95 Z" fill="#eb3518"/>
<path d="M1836.47 1641.25 L1845.59 1641.25 L1841.03 1633.03 Z" fill="#eb3518"/>
<path d="M1871.64 1645.15 L1880.76 1645.15 L1876.20 1636.93 Z" fill="#eb3518"/>
<path d="M1924.40 1631.50 L1933.52 1631.50 L1928.96 1623.28 Z" fill="#eb3518"/>
<path d="M1625.44 1654.90 L1634.56 1654.90 L1630.00 1646.68 Z" fill="#eb3518"/>
<path d="M1748.54 1648.08 L1757.66 1648.08 L1753.10 1639.85 Z" fill="#eb3518"/>
<path d="M1801.30 1646.13 L1810.42 1646.13 L1805.86 1637.90 Z" fill="#eb3518"/>
<path d="M1836.47 1647.10 L1845.59 1647.10 L1841.03 1638.88 Z" fill="#eb3518"/>
<path d="M1871.64 1641.25 L1880.76 1641.25 L1876.20 1633.03 Z" fill="#eb3518"/>
<path d="M1924.40 1633.45 L1933.52 1633.45 L1928.96 1625.23 Z" fill="#eb3518"/>
<path d="M1625.44 1654.90 L1634.56 1654.90 L1630.00 1646.68 Z" fill="#eb3518"/>
<path d="M1748.54 1649.05 L1757.66 1649.05 L1753.10 1640.83 Z" fill="#eb3518"/>
<path d="M1801.30 1648.08 L1810.42 1648.08 L1805.86 1639.85 Z" fill="#eb3518"/>
<path d="M1836.47 1644.18 L1845.59 1644.18 L1841.03 1635.95 Z" fill="#eb3518"/>
<path d="M1871.64 1649.05 L1880.76 1649.05 L1876.20 1640.83 Z" fill="#eb3518"/>
<path d="M1924.40 1635.40 L1933.52 1635.40 L1928.96 1627.18 Z" fill="#eb3518"/>
<path d="M1625.44 1654.90 L1634.56 1654.90 L1630.00 1646.68 Z" fill="#eb3518"/>
<path d="M1748.54 1650.03 L1757.66 1650.03 L1753.10 1641.80 Z" fill="#eb3518"/>
<path d="M1801.30 1649.05 L1810.42 1649.05 L1805.86 1640.83 Z" fill="#eb3518"/>
<path d="M1836.47 1649.05 L1845.59 1649.05 L1841.03 1640.83 Z" fill="#eb3518"/>
<path d="M1871.64 1653.93 L1880.76 1653.93 L1876.20 1645.70 Z" fill="#eb3518"/>
<path d="M1924.40 1644.18 L1933.52 1644.18 L1928.96 1635.95 Z" fill="#eb3518"/>
<path d="M1625.44 1654.90 L1634.56 1654.90 L1630.00 1646.68 Z" fill="#eb3518"/>
<path d="M1748.54 1651.00 L1757.66 1651.00 L1753.10 1642.78 Z" fill="#eb3518"/>
<path d="M1801.30 1650.03 L1810.42 1650.03 L1805.86 1641.80 Z" fill="#eb3518"/>
<path d="M1836.47 1651.00 L1845.59 1651.00 L1841.03 1642.78 Z" fill="#eb3518"/>
<path d="M1871.64 1651.98 L1880.76 1651.98 L1876.20 1643.75 Z" fill="#eb3518"/>
<path d="M1924.40 1647.10 L1933.52 1647.10 L1928.96 1638.88 Z" fill="#eb3518"/>
<path d="M1625.44 1654.90 L1634.56 1654.90 L1630.00 1646.68 Z" fill="#eb3518"/>
<path d="M1748.54 1647.10 L1757.66 1647.10 L1753.10 1638.88 Z" fill="#eb3518"/>
<path d="M1801.30 1645.15 L1810.42 1645.15 L1805.86 1636.93 Z" fill="#eb3518"/>
<path d="M1836.47 1646.13 L1845.59 1646.13 L1841.03 1637.90 Z" fill="#eb3518"/>
<path d="M1871.64 1646.13 L1880.76 1646.13 L1876.20 1637.90 Z" fill="#eb3518"/>
<path d="M1924.40 1636.38 L1933.52 1636.38 L1928.96 1628.15 Z" fill="#eb3518"/>
<text x="14.80" y="1780.40" font-size="46.3" stroke="#000">g</text>
<text x="294.80" y="1813.60" font-size="22" text-anchor="middle" stroke="#000">MC38</text>
<line x1="118.90" y1="1838.30" x2="118.90" y2="2074.80" stroke="#000" stroke-width="2.0"/>
<line x1="109.40" y1="2073.80" x2="470.60" y2="2073.80" stroke="#000" stroke-width="2.0"/>
<line x1="109.40" y1="1839.30" x2="118.90" y2="1839.30" stroke="#000" stroke-width="2.0"/>
<text x="107.40" y="1847.18" font-size="22" text-anchor="end" stroke="#000">1000</text>
<line x1="109.40" y1="1886.20" x2="118.90" y2="1886.20" stroke="#000" stroke-width="2.0"/>
<text x="107.40" y="1894.08" font-size="22" text-anchor="end" stroke="#000">800</text>
<line x1="109.40" y1="1933.10" x2="118.90" y2="1933.10" stroke="#000" stroke-width="2.0"/>
<text x="107.40" y="1940.98" font-size="22" text-anchor="end" stroke="#000">600</text>
<line x1="109.40" y1="1980.00" x2="118.90" y2="1980.00" stroke="#000" stroke-width="2.0"/>
<text x="107.40" y="1987.88" font-size="22" text-anchor="end" stroke="#000">400</text>
<line x1="109.40" y1="2026.90" x2="118.90" y2="2026.90" stroke="#000" stroke-width="2.0"/>
<text x="107.40" y="2034.78" font-size="22" text-anchor="end" stroke="#000">200</text>
<text x="107.40" y="2081.68" font-size="22" text-anchor="end" stroke="#000">0</text>
<line x1="118.90" y1="2073.80" x2="118.90" y2="2084.30" stroke="#000" stroke-width="2.0"/>
<line x1="206.80" y1="2073.80" x2="206.80" y2="2084.30" stroke="#000" stroke-width="2.0"/>
<line x1="294.70" y1="2073.80" x2="294.70" y2="2084.30" stroke="#000" stroke-width="2.0"/>
<line x1="382.60" y1="2073.80" x2="382.60" y2="2084.30" stroke="#000" stroke-width="2.0"/>
<line x1="470.50" y1="2073.80" x2="470.50" y2="2084.30" stroke="#000" stroke-width="2.0"/>
<text x="118.90" y="2105.60" font-size="22" text-anchor="middle" stroke="#000">0</text>
<text x="206.80" y="2105.60" font-size="22" text-anchor="middle" stroke="#000">5</text>
<text x="294.70" y="2105.60" font-size="22" text-anchor="middle" stroke="#000">10</text>
<text x="382.60" y="2105.60" font-size="22" text-anchor="middle" stroke="#000">15</text>
<text x="470.50" y="2105.60" font-size="22" text-anchor="middle" stroke="#000">20</text>
<text transform="translate(46.90 1948.20) rotate(-90)" font-size="22" text-anchor="middle" stroke="#000">Tumor volume (mm<tspan dy="-8.58" font-size="15.84">3</tspan><tspan dy="8.58" dx="0.00">)</tspan></text>
<text x="295.10" y="2142.00" font-size="22" text-anchor="middle" stroke="#000">Days post tumor injection</text>
<line x1="294.70" y1="2038.63" x2="294.70" y2="2034.40" stroke="#000" stroke-width="2"/>
<line x1="289.20" y1="2034.40" x2="300.20" y2="2034.40" stroke="#000" stroke-width="2"/>
<line x1="365.02" y1="1991.73" x2="365.02" y2="1986.57" stroke="#000" stroke-width="2"/>
<line x1="359.52" y1="1986.57" x2="370.52" y2="1986.57" stroke="#000" stroke-width="2"/>
<line x1="417.76" y1="1921.38" x2="417.76" y2="1897.69" stroke="#000" stroke-width="2"/>
<line x1="412.26" y1="1897.69" x2="423.26" y2="1897.69" stroke="#000" stroke-width="2"/>
<polyline points="118.9,2073.8 242.0,2053.2 294.7,2038.6 329.9,2015.4 365.0,1991.7 417.8,1921.4" fill="none" stroke="#000" stroke-width="2.2" stroke-linejoin="round"/>
<path d="M114.24 2070.02 L123.56 2070.02 L118.90 2078.42 Z" fill="#000"/>
<path d="M237.30 2049.38 L246.62 2049.38 L241.96 2057.78 Z" fill="#000"/>
<path d="M290.04 2034.85 L299.36 2034.85 L294.70 2043.25 Z" fill="#000"/>
<path d="M325.20 2011.63 L334.52 2011.63 L329.86 2020.03 Z" fill="#000"/>
<path d="M360.36 1987.95 L369.68 1987.95 L365.02 1996.35 Z" fill="#000"/>
<path d="M413.10 1917.60 L422.42 1917.60 L417.76 1925.99 Z" fill="#000"/>
<line x1="241.96" y1="2050.12" x2="241.96" y2="2047.07" stroke="#e5381b" stroke-width="2"/>
<line x1="236.46" y1="2047.07" x2="247.46" y2="2047.07" stroke="#e5381b" stroke-width="2"/>
<line x1="294.70" y1="2044.49" x2="294.70" y2="2034.17" stroke="#e5381b" stroke-width="2"/>
<line x1="289.20" y1="2034.17" x2="300.20" y2="2034.17" stroke="#e5381b" stroke-width="2"/>
<line x1="329.86" y1="2022.68" x2="329.86" y2="2006.97" stroke="#e5381b" stroke-width="2"/>
<line x1="324.36" y1="2006.97" x2="335.36" y2="2006.97" stroke="#e5381b" stroke-width="2"/>
<line x1="365.02" y1="1998.76" x2="365.02" y2="1977.42" stroke="#e5381b" stroke-width="2"/>
<line x1="359.52" y1="1977.42" x2="370.52" y2="1977.42" stroke="#e5381b" stroke-width="2"/>
<line x1="417.76" y1="1935.45" x2="417.76" y2="1892.06" stroke="#e5381b" stroke-width="2"/>
<line x1="412.26" y1="1892.06" x2="423.26" y2="1892.06" stroke="#e5381b" stroke-width="2"/>
<polyline points="118.9,2073.8 242.0,2050.1 294.7,2044.5 329.9,2022.7 365.0,1998.8 417.8,1935.4" fill="none" stroke="#e5381b" stroke-width="2.2" stroke-linejoin="round"/>
<rect x="114.40" y="2069.30" width="9.00" height="9.00" fill="#e5381b"/>
<rect x="237.46" y="2045.62" width="9.00" height="9.00" fill="#e5381b"/>
<rect x="290.20" y="2039.99" width="9.00" height="9.00" fill="#e5381b"/>
<rect x="325.36" y="2018.18" width="9.00" height="9.00" fill="#e5381b"/>
<rect x="360.52" y="1994.26" width="9.00" height="9.00" fill="#e5381b"/>
<rect x="413.26" y="1930.95" width="9.00" height="9.00" fill="#e5381b"/>
<line x1="365.02" y1="1980.94" x2="365.02" y2="1971.09" stroke="#1242e6" stroke-width="2"/>
<line x1="359.52" y1="1971.09" x2="370.52" y2="1971.09" stroke="#1242e6" stroke-width="2"/>
<line x1="417.76" y1="1921.84" x2="417.76" y2="1894.88" stroke="#1242e6" stroke-width="2"/>
<line x1="412.26" y1="1894.88" x2="423.26" y2="1894.88" stroke="#1242e6" stroke-width="2"/>
<polyline points="118.9,2073.8 242.0,2053.6 294.7,2044.0 329.9,2028.1 365.0,1980.9 417.8,1921.8" fill="none" stroke="#1242e6" stroke-width="2.2" stroke-linejoin="round"/>
<circle cx="118.90" cy="2073.80" r="4.70" fill="#1242e6"/>
<circle cx="241.96" cy="2053.63" r="4.70" fill="#1242e6"/>
<circle cx="294.70" cy="2044.02" r="4.70" fill="#1242e6"/>
<circle cx="329.86" cy="2028.07" r="4.70" fill="#1242e6"/>
<circle cx="365.02" cy="1980.94" r="4.70" fill="#1242e6"/>
<circle cx="417.76" cy="1921.84" r="4.70" fill="#1242e6"/>
<line x1="133.20" y1="1855.90" x2="159.50" y2="1855.90" stroke="#000" stroke-width="2"/>
<path d="M141.54 1852.12 L150.86 1852.12 L146.20 1860.52 Z" fill="#000"/>
<text x="174.00" y="1863.50" font-size="22" stroke="#000">PBS</text>
<line x1="133.20" y1="1889.80" x2="159.50" y2="1889.80" stroke="#1242e6" stroke-width="2"/>
<circle cx="146.20" cy="1889.80" r="4.70" fill="#1242e6"/>
<text x="174.00" y="1897.40" font-size="22" stroke="#000">DCP-FLT3L</text>
<line x1="133.20" y1="1923.40" x2="159.50" y2="1923.40" stroke="#e5381b" stroke-width="2"/>
<rect x="141.70" y="1918.90" width="9.00" height="9.00" fill="#e5381b"/>
<text x="174.00" y="1931.00" font-size="22" stroke="#000">DCP-IL-12</text>
<text x="499.30" y="1781.00" font-size="46.3" stroke="#000">h</text>
<g transform="translate(0 0)">
<text x="765.00" y="1777.50" font-size="24.6" text-anchor="middle" stroke="#000">Tumor: cDCs</text>
<text transform="translate(610.10 1940.30) rotate(-90)" font-size="25.1" text-anchor="middle" stroke="#000">F4/80<tspan dy="-9.79" font-size="18.07">−</tspan><tspan dy="9.79" dx="-0.75"> Ly6C</tspan><tspan dy="-9.79" font-size="18.07">−</tspan><tspan dy="9.79" dx="-0.75"> CD11c</tspan><tspan dy="-9.79" font-size="18.07">+</tspan><tspan dy="9.79" dx="-0.75"> MHCII</tspan><tspan dy="-9.79" font-size="18.07">+</tspan></text>
<text transform="translate(643.70 1940.30) rotate(-90)" font-size="25.1" text-anchor="middle" stroke="#000">(% of CD45<tspan dy="-9.79" font-size="18.07">+</tspan><tspan dy="9.79" dx="-0.75"> cells)</tspan></text>
<text transform="translate(727.70 2113.70) rotate(-45)" font-size="25.3" text-anchor="end" stroke="#000">PBS</text>
<text transform="translate(780.70 2113.70) rotate(-45)" font-size="25.3" text-anchor="end" stroke="#000">DCP-FLT3L</text>
<text transform="translate(833.20 2113.70) rotate(-45)" font-size="25.3" text-anchor="end" stroke="#000">DCP-IL-12</text>
<circle cx="722.50" cy="1872.50" r="3.80" fill="#000"/>
<circle cx="722.50" cy="1915.00" r="3.80" fill="#000"/>
<circle cx="722.00" cy="1948.75" r="3.80" fill="#000"/>
<circle cx="714.25" cy="1975.00" r="3.80" fill="#000"/>
<circle cx="730.00" cy="1981.25" r="3.80" fill="#000"/>
<circle cx="714.25" cy="1985.00" r="3.80" fill="#000"/>
<circle cx="730.00" cy="1990.50" r="3.80" fill="#000"/>
<circle cx="714.25" cy="1997.00" r="3.80" fill="#000"/>
<line x1="722.25" y1="1914.25" x2="722.25" y2="2001.75" stroke="#000" stroke-width="2.1"/>
<line x1="712.50" y1="1914.25" x2="732.00" y2="1914.25" stroke="#000" stroke-width="2.1"/>
<line x1="712.50" y1="2001.75" x2="732.00" y2="2001.75" stroke="#000" stroke-width="2.1"/>
<line x1="704.25" y1="1958.00" x2="739.50" y2="1958.00" stroke="#000" stroke-width="2.1"/>
<circle cx="775.00" cy="1881.75" r="3.80" fill="#1242e6"/>
<circle cx="775.00" cy="1908.75" r="3.80" fill="#1242e6"/>
<circle cx="788.75" cy="1918.00" r="3.80" fill="#1242e6"/>
<circle cx="761.25" cy="1923.00" r="3.80" fill="#1242e6"/>
<circle cx="770.00" cy="1926.25" r="3.80" fill="#1242e6"/>
<circle cx="779.50" cy="1926.25" r="3.80" fill="#1242e6"/>
<circle cx="775.00" cy="1949.25" r="3.80" fill="#1242e6"/>
<circle cx="775.00" cy="1963.25" r="3.80" fill="#1242e6"/>
<line x1="775.00" y1="1899.50" x2="775.00" y2="1949.25" stroke="#1242e6" stroke-width="2.1"/>
<line x1="765.50" y1="1899.50" x2="784.50" y2="1899.50" stroke="#1242e6" stroke-width="2.1"/>
<line x1="765.50" y1="1949.25" x2="784.50" y2="1949.25" stroke="#1242e6" stroke-width="2.1"/>
<line x1="757.50" y1="1925.00" x2="792.50" y2="1925.00" stroke="#1242e6" stroke-width="2.1"/>
<circle cx="827.50" cy="1938.00" r="3.80" fill="#e5381b"/>
<circle cx="827.50" cy="1961.25" r="3.80" fill="#e5381b"/>
<circle cx="827.50" cy="1974.25" r="3.80" fill="#e5381b"/>
<circle cx="827.50" cy="1984.50" r="3.80" fill="#e5381b"/>
<circle cx="820.00" cy="1999.50" r="3.80" fill="#e5381b"/>
<circle cx="835.00" cy="2004.50" r="3.80" fill="#e5381b"/>
<circle cx="827.50" cy="2021.75" r="3.80" fill="#e5381b"/>
<line x1="827.62" y1="1955.00" x2="827.62" y2="2012.00" stroke="#e5381b" stroke-width="2.1"/>
<line x1="818.25" y1="1955.00" x2="837.00" y2="1955.00" stroke="#e5381b" stroke-width="2.1"/>
<line x1="818.25" y1="2012.00" x2="837.00" y2="2012.00" stroke="#e5381b" stroke-width="2.1"/>
<line x1="810.00" y1="1983.75" x2="845.00" y2="1983.75" stroke="#e5381b" stroke-width="2.1"/>
<line x1="687.00" y1="1818.35" x2="687.00" y2="2084.15" stroke="#000" stroke-width="2.3"/>
<line x1="677.00" y1="2083.00" x2="863.25" y2="2083.00" stroke="#000" stroke-width="2.3"/>
<line x1="677.00" y1="1819.50" x2="687.00" y2="1819.50" stroke="#000" stroke-width="2.3"/>
<text x="675.00" y="1828.56" font-size="25.3" text-anchor="end" stroke="#000">4</text>
<line x1="677.00" y1="1885.38" x2="687.00" y2="1885.38" stroke="#000" stroke-width="2.3"/>
<text x="675.00" y="1894.43" font-size="25.3" text-anchor="end" stroke="#000">3</text>
<line x1="677.00" y1="1951.25" x2="687.00" y2="1951.25" stroke="#000" stroke-width="2.3"/>
<text x="675.00" y="1960.31" font-size="25.3" text-anchor="end" stroke="#000">2</text>
<line x1="677.00" y1="2017.12" x2="687.00" y2="2017.12" stroke="#000" stroke-width="2.3"/>
<text x="675.00" y="2026.18" font-size="25.3" text-anchor="end" stroke="#000">1</text>
<text x="675.00" y="2092.06" font-size="25.3" text-anchor="end" stroke="#000">0</text>
<line x1="722.00" y1="2083.00" x2="722.00" y2="2094.15" stroke="#000" stroke-width="2.3"/>
<line x1="775.00" y1="2083.00" x2="775.00" y2="2094.15" stroke="#000" stroke-width="2.3"/>
<line x1="827.50" y1="2083.00" x2="827.50" y2="2094.15" stroke="#000" stroke-width="2.3"/>
<text x="803.50" y="1838.00" font-size="22.7" text-anchor="middle" fill="#222" stroke="#222">0.0083</text>
<line x1="775.50" y1="1846.25" x2="830.00" y2="1846.25" stroke="#000" stroke-width="2.1"/>
</g>
<text x="15.80" y="2209.75" font-size="46.3" stroke="#000">i</text>
<g transform="translate(0 0)">
<text x="206.50" y="2270.00" font-size="24.9" text-anchor="middle" stroke="#000">Tumor: activated CD8<tspan dy="-8.96" font-size="17.43">+</tspan><tspan dy="8.96" dx="-0.75"> T cells</tspan></text>
<text transform="translate(51.30 2438.00) rotate(-90)" font-size="25.3" text-anchor="middle" stroke="#000">PD-1<tspan dy="-9.87" font-size="18.22">+</tspan><tspan dy="9.87" dx="-0.76"> TIM-3</tspan><tspan dy="-9.87" font-size="18.22">−</tspan><tspan dy="9.87" dx="-0.76">  CD8</tspan><tspan dy="-9.87" font-size="18.22">+</tspan><tspan dy="9.87" dx="-0.76"> T cell</tspan></text>
<text transform="translate(84.70 2438.00) rotate(-90)" font-size="25.3" text-anchor="middle" stroke="#000">(% of CD45<tspan dy="-9.87" font-size="18.22">+</tspan><tspan dy="9.87" dx="-0.76"> cells)</tspan></text>
<text transform="translate(169.95 2603.10) rotate(-45)" font-size="25.5" text-anchor="end" stroke="#000">PBS</text>
<text transform="translate(223.20 2603.10) rotate(-45)" font-size="25.5" text-anchor="end" stroke="#000">DCP-FLT3L</text>
<text transform="translate(276.20 2603.10) rotate(-45)" font-size="25.5" text-anchor="end" stroke="#000">DCP-IL-12</text>
<circle cx="156.75" cy="2452.50" r="3.80" fill="#000"/>
<circle cx="172.50" cy="2459.50" r="3.80" fill="#000"/>
<circle cx="156.75" cy="2472.00" r="3.80" fill="#000"/>
<circle cx="172.50" cy="2478.75" r="3.80" fill="#000"/>
<circle cx="156.75" cy="2507.50" r="3.80" fill="#000"/>
<circle cx="172.50" cy="2508.00" r="3.80" fill="#000"/>
<circle cx="164.25" cy="2516.25" r="3.80" fill="#000"/>
<line x1="164.38" y1="2459.50" x2="164.38" y2="2510.00" stroke="#000" stroke-width="2.1"/>
<line x1="155.00" y1="2459.50" x2="173.75" y2="2459.50" stroke="#000" stroke-width="2.1"/>
<line x1="155.00" y1="2510.00" x2="173.75" y2="2510.00" stroke="#000" stroke-width="2.1"/>
<line x1="147.00" y1="2484.50" x2="182.00" y2="2484.50" stroke="#000" stroke-width="2.1"/>
<circle cx="217.00" cy="2343.75" r="3.80" fill="#1242e6"/>
<circle cx="217.00" cy="2460.75" r="3.80" fill="#1242e6"/>
<circle cx="217.00" cy="2478.75" r="3.80" fill="#1242e6"/>
<circle cx="225.00" cy="2503.75" r="3.80" fill="#1242e6"/>
<circle cx="209.25" cy="2508.25" r="3.80" fill="#1242e6"/>
<circle cx="209.25" cy="2525.50" r="3.80" fill="#1242e6"/>
<circle cx="225.00" cy="2525.00" r="3.80" fill="#1242e6"/>
<line x1="217.12" y1="2414.50" x2="217.12" y2="2542.00" stroke="#1242e6" stroke-width="2.1"/>
<line x1="208.00" y1="2414.50" x2="226.25" y2="2414.50" stroke="#1242e6" stroke-width="2.1"/>
<line x1="208.00" y1="2542.00" x2="226.25" y2="2542.00" stroke="#1242e6" stroke-width="2.1"/>
<line x1="199.25" y1="2478.00" x2="235.00" y2="2478.00" stroke="#1242e6" stroke-width="2.1"/>
<circle cx="270.00" cy="2333.00" r="3.80" fill="#e5381b"/>
<circle cx="256.25" cy="2421.25" r="3.80" fill="#e5381b"/>
<circle cx="283.75" cy="2418.75" r="3.80" fill="#e5381b"/>
<circle cx="270.00" cy="2425.00" r="3.80" fill="#e5381b"/>
<circle cx="270.00" cy="2485.00" r="3.80" fill="#e5381b"/>
<circle cx="262.50" cy="2502.50" r="3.80" fill="#e5381b"/>
<circle cx="277.00" cy="2502.50" r="3.80" fill="#e5381b"/>
<line x1="270.12" y1="2380.00" x2="270.12" y2="2502.00" stroke="#e5381b" stroke-width="2.1"/>
<line x1="260.75" y1="2380.00" x2="279.50" y2="2380.00" stroke="#e5381b" stroke-width="2.1"/>
<line x1="260.75" y1="2502.00" x2="279.50" y2="2502.00" stroke="#e5381b" stroke-width="2.1"/>
<line x1="252.50" y1="2441.25" x2="288.00" y2="2441.25" stroke="#e5381b" stroke-width="2.1"/>
<line x1="129.20" y1="2308.25" x2="129.20" y2="2573.65" stroke="#000" stroke-width="2.3"/>
<line x1="119.20" y1="2572.50" x2="305.00" y2="2572.50" stroke="#000" stroke-width="2.3"/>
<line x1="119.20" y1="2309.40" x2="129.20" y2="2309.40" stroke="#000" stroke-width="2.3"/>
<text x="116.60" y="2318.49" font-size="25.4" text-anchor="end" stroke="#000">3</text>
<line x1="119.20" y1="2397.10" x2="129.20" y2="2397.10" stroke="#000" stroke-width="2.3"/>
<text x="116.60" y="2406.19" font-size="25.4" text-anchor="end" stroke="#000">2</text>
<line x1="119.20" y1="2484.80" x2="129.20" y2="2484.80" stroke="#000" stroke-width="2.3"/>
<text x="116.60" y="2493.89" font-size="25.4" text-anchor="end" stroke="#000">1</text>
<text x="116.60" y="2581.59" font-size="25.4" text-anchor="end" stroke="#000">0</text>
<line x1="163.75" y1="2572.50" x2="163.75" y2="2583.65" stroke="#000" stroke-width="2.3"/>
<line x1="217.00" y1="2572.50" x2="217.00" y2="2583.65" stroke="#000" stroke-width="2.3"/>
<line x1="270.00" y1="2572.50" x2="270.00" y2="2583.65" stroke="#000" stroke-width="2.3"/>
</g>
<g transform="translate(0 0)">
<text x="601.90" y="2270.00" font-size="24.9" text-anchor="middle" stroke="#000">Tumor: exhausted CD8<tspan dy="-8.96" font-size="17.43">+</tspan><tspan dy="8.96" dx="-0.75"> T cells</tspan></text>
<text transform="translate(439.00 2438.00) rotate(-90)" font-size="25.3" text-anchor="middle" stroke="#000">PD-1<tspan dy="-9.87" font-size="18.22">+</tspan><tspan dy="9.87" dx="-0.76"> TIM-3 </tspan><tspan dy="-9.87" font-size="18.22">+</tspan><tspan dy="9.87" dx="-0.76"> CD8</tspan><tspan dy="-9.87" font-size="18.22">+</tspan><tspan dy="9.87" dx="-0.76"> T cell</tspan></text>
<text transform="translate(472.60 2438.00) rotate(-90)" font-size="25.3" text-anchor="middle" stroke="#000">(% of CD45<tspan dy="-9.87" font-size="18.22">+</tspan><tspan dy="9.87" dx="-0.76"> cells)</tspan></text>
<text transform="translate(566.20 2603.85) rotate(-45)" font-size="25.5" text-anchor="end" stroke="#000">PBS</text>
<text transform="translate(619.20 2603.85) rotate(-45)" font-size="25.5" text-anchor="end" stroke="#000">DCP-FLT3L</text>
<text transform="translate(671.95 2603.85) rotate(-45)" font-size="25.5" text-anchor="end" stroke="#000">DCP-IL-12</text>
<circle cx="560.00" cy="2435.50" r="3.80" fill="#000"/>
<circle cx="560.00" cy="2445.75" r="3.80" fill="#000"/>
<circle cx="552.00" cy="2462.00" r="3.80" fill="#000"/>
<circle cx="552.00" cy="2470.00" r="3.80" fill="#000"/>
<circle cx="568.00" cy="2468.75" r="3.80" fill="#000"/>
<circle cx="560.00" cy="2490.00" r="3.80" fill="#000"/>
<circle cx="560.00" cy="2501.25" r="3.80" fill="#000"/>
<line x1="560.12" y1="2445.00" x2="560.12" y2="2490.50" stroke="#000" stroke-width="2.1"/>
<line x1="550.75" y1="2445.00" x2="569.50" y2="2445.00" stroke="#000" stroke-width="2.1"/>
<line x1="550.75" y1="2490.50" x2="569.50" y2="2490.50" stroke="#000" stroke-width="2.1"/>
<line x1="542.50" y1="2467.50" x2="577.50" y2="2467.50" stroke="#000" stroke-width="2.1"/>
<circle cx="613.00" cy="2430.00" r="3.80" fill="#1242e6"/>
<circle cx="613.00" cy="2466.75" r="3.80" fill="#1242e6"/>
<circle cx="599.25" cy="2477.50" r="3.80" fill="#1242e6"/>
<circle cx="626.75" cy="2483.75" r="3.80" fill="#1242e6"/>
<circle cx="613.00" cy="2490.00" r="3.80" fill="#1242e6"/>
<circle cx="599.25" cy="2496.75" r="3.80" fill="#1242e6"/>
<circle cx="626.75" cy="2495.50" r="3.80" fill="#1242e6"/>
<line x1="613.12" y1="2453.75" x2="613.12" y2="2500.75" stroke="#1242e6" stroke-width="2.1"/>
<line x1="603.75" y1="2453.75" x2="622.50" y2="2453.75" stroke="#1242e6" stroke-width="2.1"/>
<line x1="603.75" y1="2500.75" x2="622.50" y2="2500.75" stroke="#1242e6" stroke-width="2.1"/>
<line x1="595.50" y1="2476.75" x2="630.00" y2="2476.75" stroke="#1242e6" stroke-width="2.1"/>
<circle cx="665.75" cy="2332.00" r="3.80" fill="#e5381b"/>
<circle cx="679.50" cy="2442.00" r="3.80" fill="#e5381b"/>
<circle cx="665.75" cy="2446.25" r="3.80" fill="#e5381b"/>
<circle cx="665.75" cy="2473.25" r="3.80" fill="#e5381b"/>
<circle cx="665.75" cy="2493.75" r="3.80" fill="#e5381b"/>
<circle cx="652.00" cy="2498.00" r="3.80" fill="#e5381b"/>
<circle cx="679.50" cy="2495.75" r="3.80" fill="#e5381b"/>
<line x1="665.62" y1="2395.75" x2="665.62" y2="2513.00" stroke="#e5381b" stroke-width="2.1"/>
<line x1="656.25" y1="2395.75" x2="675.00" y2="2395.75" stroke="#e5381b" stroke-width="2.1"/>
<line x1="656.25" y1="2513.00" x2="675.00" y2="2513.00" stroke="#e5381b" stroke-width="2.1"/>
<line x1="648.25" y1="2454.50" x2="683.25" y2="2454.50" stroke="#e5381b" stroke-width="2.1"/>
<line x1="525.00" y1="2308.25" x2="525.00" y2="2574.40" stroke="#000" stroke-width="2.3"/>
<line x1="515.00" y1="2573.25" x2="700.75" y2="2573.25" stroke="#000" stroke-width="2.3"/>
<line x1="515.00" y1="2309.40" x2="525.00" y2="2309.40" stroke="#000" stroke-width="2.3"/>
<text x="512.40" y="2318.49" font-size="25.4" text-anchor="end" stroke="#000">6</text>
<line x1="515.00" y1="2375.36" x2="525.00" y2="2375.36" stroke="#000" stroke-width="2.3"/>
<text x="512.40" y="2384.46" font-size="25.4" text-anchor="end" stroke="#000">4</text>
<line x1="515.00" y1="2441.32" x2="525.00" y2="2441.32" stroke="#000" stroke-width="2.3"/>
<text x="512.40" y="2450.42" font-size="25.4" text-anchor="end" stroke="#000">2</text>
<line x1="515.00" y1="2507.29" x2="525.00" y2="2507.29" stroke="#000" stroke-width="2.3"/>
<text x="512.40" y="2516.38" font-size="25.4" text-anchor="end" stroke="#000">0</text>
<text x="512.40" y="2582.34" font-size="25.4" text-anchor="end" stroke="#000">-2</text>
<line x1="560.00" y1="2573.25" x2="560.00" y2="2584.40" stroke="#000" stroke-width="2.3"/>
<line x1="613.00" y1="2573.25" x2="613.00" y2="2584.40" stroke="#000" stroke-width="2.3"/>
<line x1="665.75" y1="2573.25" x2="665.75" y2="2584.40" stroke="#000" stroke-width="2.3"/>
</g>
<g transform="translate(0 0)">
<text x="993.10" y="2270.00" font-size="24.9" text-anchor="middle" stroke="#000">Tumor: activated CD4<tspan dy="-8.96" font-size="17.43">+</tspan><tspan dy="8.96" dx="-0.75"> T cells</tspan></text>
<text transform="translate(839.20 2438.00) rotate(-90)" font-size="25.3" text-anchor="middle" stroke="#000">PD-1<tspan dy="-9.87" font-size="18.22">+</tspan><tspan dy="9.87" dx="-0.76"> TIM-3</tspan><tspan dy="-9.87" font-size="18.22">−</tspan><tspan dy="9.87" dx="-0.76"> CD4</tspan><tspan dy="-9.87" font-size="18.22">+</tspan><tspan dy="9.87" dx="-0.76"> T cells</tspan></text>
<text transform="translate(872.90 2438.00) rotate(-90)" font-size="25.3" text-anchor="middle" stroke="#000">(% of CD45<tspan dy="-9.87" font-size="18.22">+</tspan><tspan dy="9.87" dx="-0.76"> cells)</tspan></text>
<text transform="translate(983.70 2603.60) rotate(-45)" font-size="25.5" text-anchor="end" stroke="#000">PBS</text>
<text transform="translate(1036.70 2603.60) rotate(-45)" font-size="25.5" text-anchor="end" stroke="#000">DCP-FLT3L</text>
<text transform="translate(1089.95 2603.60) rotate(-45)" font-size="25.5" text-anchor="end" stroke="#000">DCP-IL-12</text>
<circle cx="978.00" cy="2478.00" r="3.80" fill="#000"/>
<circle cx="991.25" cy="2480.00" r="3.80" fill="#000"/>
<circle cx="978.00" cy="2487.00" r="3.80" fill="#000"/>
<circle cx="978.00" cy="2502.50" r="3.80" fill="#000"/>
<circle cx="978.00" cy="2513.75" r="3.80" fill="#000"/>
<circle cx="963.75" cy="2520.75" r="3.80" fill="#000"/>
<circle cx="991.25" cy="2519.25" r="3.80" fill="#000"/>
<line x1="977.75" y1="2482.00" x2="977.75" y2="2518.25" stroke="#000" stroke-width="2.1"/>
<line x1="968.00" y1="2482.00" x2="987.50" y2="2482.00" stroke="#000" stroke-width="2.1"/>
<line x1="968.00" y1="2518.25" x2="987.50" y2="2518.25" stroke="#000" stroke-width="2.1"/>
<line x1="960.00" y1="2500.50" x2="995.50" y2="2500.50" stroke="#000" stroke-width="2.1"/>
<circle cx="1030.50" cy="2453.25" r="3.80" fill="#1242e6"/>
<circle cx="1017.00" cy="2475.00" r="3.80" fill="#1242e6"/>
<circle cx="1044.50" cy="2476.25" r="3.80" fill="#1242e6"/>
<circle cx="1030.50" cy="2478.75" r="3.80" fill="#1242e6"/>
<circle cx="1017.00" cy="2495.75" r="3.80" fill="#1242e6"/>
<circle cx="1030.50" cy="2494.50" r="3.80" fill="#1242e6"/>
<circle cx="1044.50" cy="2495.75" r="3.80" fill="#1242e6"/>
<line x1="1030.62" y1="2465.75" x2="1030.62" y2="2496.25" stroke="#1242e6" stroke-width="2.1"/>
<line x1="1021.25" y1="2465.75" x2="1040.00" y2="2465.75" stroke="#1242e6" stroke-width="2.1"/>
<line x1="1021.25" y1="2496.25" x2="1040.00" y2="2496.25" stroke="#1242e6" stroke-width="2.1"/>
<line x1="1013.00" y1="2481.25" x2="1048.00" y2="2481.25" stroke="#1242e6" stroke-width="2.1"/>
<circle cx="1083.75" cy="2342.50" r="3.80" fill="#e5381b"/>
<circle cx="1083.75" cy="2414.50" r="3.80" fill="#e5381b"/>
<circle cx="1075.00" cy="2438.00" r="3.80" fill="#e5381b"/>
<circle cx="1091.25" cy="2439.50" r="3.80" fill="#e5381b"/>
<circle cx="1083.75" cy="2474.50" r="3.80" fill="#e5381b"/>
<circle cx="1075.00" cy="2492.50" r="3.80" fill="#e5381b"/>
<circle cx="1091.25" cy="2492.50" r="3.80" fill="#e5381b"/>
<line x1="1083.62" y1="2389.25" x2="1083.62" y2="2495.00" stroke="#e5381b" stroke-width="2.1"/>
<line x1="1074.25" y1="2389.25" x2="1093.00" y2="2389.25" stroke="#e5381b" stroke-width="2.1"/>
<line x1="1074.25" y1="2495.00" x2="1093.00" y2="2495.00" stroke="#e5381b" stroke-width="2.1"/>
<line x1="1065.75" y1="2441.75" x2="1101.25" y2="2441.75" stroke="#e5381b" stroke-width="2.1"/>
<line x1="943.00" y1="2308.25" x2="943.00" y2="2574.15" stroke="#000" stroke-width="2.3"/>
<line x1="933.00" y1="2573.00" x2="1118.00" y2="2573.00" stroke="#000" stroke-width="2.3"/>
<line x1="933.00" y1="2309.40" x2="943.00" y2="2309.40" stroke="#000" stroke-width="2.3"/>
<text x="930.40" y="2318.49" font-size="25.4" text-anchor="end" stroke="#000">1.5</text>
<line x1="933.00" y1="2397.27" x2="943.00" y2="2397.27" stroke="#000" stroke-width="2.3"/>
<text x="930.40" y="2406.36" font-size="25.4" text-anchor="end" stroke="#000">1.0</text>
<line x1="933.00" y1="2485.13" x2="943.00" y2="2485.13" stroke="#000" stroke-width="2.3"/>
<text x="930.40" y="2494.23" font-size="25.4" text-anchor="end" stroke="#000">0.5</text>
<text x="930.40" y="2582.09" font-size="25.4" text-anchor="end" stroke="#000">0.0</text>
<line x1="977.50" y1="2573.00" x2="977.50" y2="2584.15" stroke="#000" stroke-width="2.3"/>
<line x1="1030.50" y1="2573.00" x2="1030.50" y2="2584.15" stroke="#000" stroke-width="2.3"/>
<line x1="1083.75" y1="2573.00" x2="1083.75" y2="2584.15" stroke="#000" stroke-width="2.3"/>
<text x="1039.40" y="2308.00" font-size="22.7" text-anchor="middle" fill="#222" stroke="#222">0.0119</text>
<line x1="984.50" y1="2319.25" x2="1086.25" y2="2319.25" stroke="#000" stroke-width="2.1"/>
</g>
<g transform="translate(0 0)">
<text x="1387.75" y="2270.00" font-size="24.9" text-anchor="middle" stroke="#000">Tumor: exhausted CD4<tspan dy="-8.96" font-size="17.43">+</tspan><tspan dy="8.96" dx="-0.75"> T cells</tspan></text>
<text transform="translate(1237.60 2437.00) rotate(-90)" font-size="25.3" text-anchor="middle" stroke="#000">PD-1<tspan dy="-9.87" font-size="18.22">+</tspan><tspan dy="9.87" dx="-0.76"> TIM-3</tspan><tspan dy="-9.87" font-size="18.22">+</tspan><tspan dy="9.87" dx="-0.76"> CD4</tspan><tspan dy="-9.87" font-size="18.22">+</tspan><tspan dy="9.87" dx="-0.76"> T cells</tspan></text>
<text transform="translate(1271.50 2437.00) rotate(-90)" font-size="25.3" text-anchor="middle" stroke="#000">(% of CD45<tspan dy="-9.87" font-size="18.22">+</tspan><tspan dy="9.87" dx="-0.76"> cells)</tspan></text>
<text transform="translate(1379.20 2603.10) rotate(-45)" font-size="25.5" text-anchor="end" stroke="#000">PBS</text>
<text transform="translate(1431.95 2603.10) rotate(-45)" font-size="25.5" text-anchor="end" stroke="#000">DCP-FLT3L</text>
<text transform="translate(1484.95 2603.10) rotate(-45)" font-size="25.5" text-anchor="end" stroke="#000">DCP-IL-12</text>
<circle cx="1365.00" cy="2376.25" r="3.80" fill="#000"/>
<circle cx="1381.25" cy="2383.00" r="3.80" fill="#000"/>
<circle cx="1373.00" cy="2405.00" r="3.80" fill="#000"/>
<circle cx="1381.25" cy="2437.00" r="3.80" fill="#000"/>
<circle cx="1365.00" cy="2441.75" r="3.80" fill="#000"/>
<circle cx="1373.00" cy="2487.50" r="3.80" fill="#000"/>
<circle cx="1373.00" cy="2496.25" r="3.80" fill="#000"/>
<line x1="1373.12" y1="2384.50" x2="1373.12" y2="2480.00" stroke="#000" stroke-width="2.1"/>
<line x1="1363.75" y1="2384.50" x2="1382.50" y2="2384.50" stroke="#000" stroke-width="2.1"/>
<line x1="1363.75" y1="2480.00" x2="1382.50" y2="2480.00" stroke="#000" stroke-width="2.1"/>
<line x1="1355.50" y1="2431.75" x2="1390.50" y2="2431.75" stroke="#000" stroke-width="2.1"/>
<circle cx="1425.75" cy="2352.50" r="3.80" fill="#1242e6"/>
<circle cx="1425.75" cy="2380.50" r="3.80" fill="#1242e6"/>
<circle cx="1425.75" cy="2394.50" r="3.80" fill="#1242e6"/>
<circle cx="1425.75" cy="2419.50" r="3.80" fill="#1242e6"/>
<circle cx="1418.00" cy="2480.00" r="3.80" fill="#1242e6"/>
<circle cx="1433.75" cy="2485.50" r="3.80" fill="#1242e6"/>
<circle cx="1425.75" cy="2493.75" r="3.80" fill="#1242e6"/>
<line x1="1425.88" y1="2372.50" x2="1425.88" y2="2486.25" stroke="#1242e6" stroke-width="2.1"/>
<line x1="1416.25" y1="2372.50" x2="1435.50" y2="2372.50" stroke="#1242e6" stroke-width="2.1"/>
<line x1="1416.25" y1="2486.25" x2="1435.50" y2="2486.25" stroke="#1242e6" stroke-width="2.1"/>
<line x1="1408.25" y1="2429.50" x2="1443.25" y2="2429.50" stroke="#1242e6" stroke-width="2.1"/>
<circle cx="1471.25" cy="2485.00" r="3.80" fill="#e5381b"/>
<circle cx="1486.25" cy="2492.50" r="3.80" fill="#e5381b"/>
<circle cx="1471.25" cy="2500.00" r="3.80" fill="#e5381b"/>
<circle cx="1478.75" cy="2510.00" r="3.80" fill="#e5381b"/>
<circle cx="1471.25" cy="2523.25" r="3.80" fill="#e5381b"/>
<circle cx="1486.25" cy="2526.25" r="3.80" fill="#e5381b"/>
<circle cx="1478.75" cy="2557.00" r="3.80" fill="#e5381b"/>
<line x1="1478.88" y1="2488.75" x2="1478.88" y2="2538.00" stroke="#e5381b" stroke-width="2.1"/>
<line x1="1469.50" y1="2488.75" x2="1488.25" y2="2488.75" stroke="#e5381b" stroke-width="2.1"/>
<line x1="1469.50" y1="2538.00" x2="1488.25" y2="2538.00" stroke="#e5381b" stroke-width="2.1"/>
<line x1="1461.25" y1="2513.25" x2="1496.25" y2="2513.25" stroke="#e5381b" stroke-width="2.1"/>
<line x1="1338.00" y1="2308.25" x2="1338.00" y2="2573.65" stroke="#000" stroke-width="2.3"/>
<line x1="1328.00" y1="2572.50" x2="1513.75" y2="2572.50" stroke="#000" stroke-width="2.3"/>
<line x1="1328.00" y1="2309.40" x2="1338.00" y2="2309.40" stroke="#000" stroke-width="2.3"/>
<text x="1325.40" y="2318.49" font-size="25.4" text-anchor="end" stroke="#000">2.0</text>
<line x1="1328.00" y1="2375.18" x2="1338.00" y2="2375.18" stroke="#000" stroke-width="2.3"/>
<text x="1325.40" y="2384.27" font-size="25.4" text-anchor="end" stroke="#000">1.5</text>
<line x1="1328.00" y1="2440.95" x2="1338.00" y2="2440.95" stroke="#000" stroke-width="2.3"/>
<text x="1325.40" y="2450.04" font-size="25.4" text-anchor="end" stroke="#000">1.0</text>
<line x1="1328.00" y1="2506.72" x2="1338.00" y2="2506.72" stroke="#000" stroke-width="2.3"/>
<text x="1325.40" y="2515.82" font-size="25.4" text-anchor="end" stroke="#000">0.5</text>
<text x="1325.40" y="2581.59" font-size="25.4" text-anchor="end" stroke="#000">0.0</text>
<line x1="1373.00" y1="2572.50" x2="1373.00" y2="2583.65" stroke="#000" stroke-width="2.3"/>
<line x1="1425.75" y1="2572.50" x2="1425.75" y2="2583.65" stroke="#000" stroke-width="2.3"/>
<line x1="1478.75" y1="2572.50" x2="1478.75" y2="2583.65" stroke="#000" stroke-width="2.3"/>
<text x="1427.10" y="2298.25" font-size="22.7" text-anchor="middle" fill="#222" stroke="#222">0.0090</text>
<line x1="1375.50" y1="2306.25" x2="1479.50" y2="2306.25" stroke="#000" stroke-width="2.1"/>
<text x="1449.10" y="2328.00" font-size="22.7" text-anchor="middle" fill="#222" stroke="#222">0.0070</text>
<line x1="1427.00" y1="2335.50" x2="1477.50" y2="2335.50" stroke="#000" stroke-width="2.1"/>
</g>
</g>
</svg></body></html>
